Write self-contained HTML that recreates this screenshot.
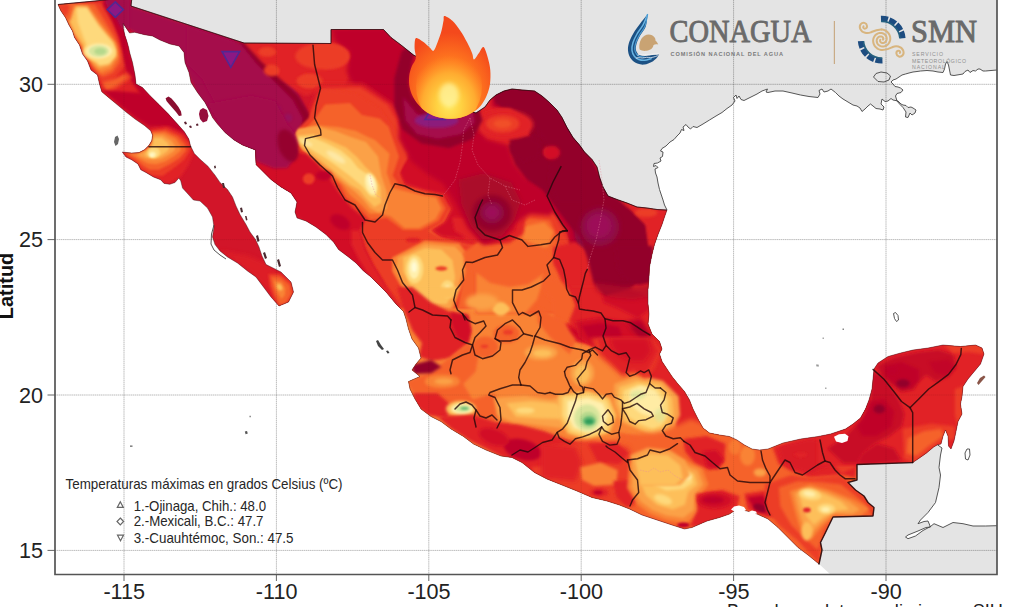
<!DOCTYPE html>
<html lang="es"><head><meta charset="utf-8"><title>Temperaturas máximas</title>
<style>
html,body{margin:0;padding:0;background:#fff;}
body{width:1024px;height:607px;overflow:hidden;position:relative;font-family:"Liberation Sans",sans-serif;}
svg{position:absolute;left:0;top:0;display:block;}
text{font-family:"Liberation Sans",sans-serif;}
.serif{font-family:"Liberation Serif",serif;}
</style></head><body>
<svg width="1024" height="607" viewBox="0 0 1024 607">
<defs>
<clipPath id="plot"><rect x="55" y="0" width="942" height="574.5"/></clipPath>
<clipPath id="mex"><path d="M58.0 4.5 L95.0 1.0 L132.0 -3.0 L131.0 6.0 L244.0 43.0 L331.0 43.5 L331.0 29.5 L383.5 29.5 L391.0 37.5 L401.0 45.0 L408.5 51.0 L413.5 55.0 L423.0 60.0 L432.0 66.0 L438.0 76.0 L443.0 88.0 L447.0 98.0 L455.0 104.0 L465.0 110.0 L476.0 113.0 L485.0 107.0 L490.0 100.0 L496.0 95.0 L504.0 91.0 L512.0 89.0 L522.0 90.0 L534.5 91.0 L542.0 96.0 L549.5 102.5 L557.0 110.0 L562.0 117.5 L567.0 127.5 L573.0 137.5 L579.5 145.0 L584.5 152.0 L592.0 159.5 L597.0 167.0 L599.5 177.0 L603.0 187.0 L608.0 196.0 L617.0 199.5 L627.0 203.0 L637.0 207.0 L647.0 208.0 L657.0 209.5 L667.0 210.0 L664.5 217.0 L662.0 224.5 L658.0 234.5 L654.5 244.5 L652.0 254.5 L649.5 267.0 L649.0 277.0 L648.0 289.5 L648.0 304.0 L649.0 314.0 L648.0 324.0 L652.0 334.0 L659.5 341.5 L662.0 349.0 L659.5 354.0 L662.0 361.5 L667.0 369.0 L672.0 376.5 L678.0 384.0 L684.5 391.5 L689.5 400.0 L693.0 409.0 L698.0 419.0 L703.0 428.0 L709.5 433.0 L719.5 435.0 L729.5 436.5 L737.0 440.0 L744.5 445.0 L752.0 449.0 L759.5 450.0 L768.0 449.0 L783.0 443.0 L800.5 439.0 L818.0 436.5 L830.5 434.0 L845.5 429.0 L853.0 424.0 L860.5 418.0 L865.5 409.0 L869.0 400.0 L872.0 389.0 L873.0 379.0 L874.0 369.0 L878.0 363.0 L888.0 356.5 L900.5 353.0 L913.0 350.0 L928.0 348.0 L943.0 345.0 L960.5 346.5 L975.5 345.0 L982.0 348.0 L984.0 354.0 L980.5 364.0 L973.0 373.0 L968.0 379.0 L963.0 386.5 L962.0 396.5 L960.5 404.0 L962.0 414.0 L958.0 421.5 L956.0 431.5 L954.0 441.0 L951.0 449.0 L948.5 446.0 L948.0 436.0 L945.5 430.0 L943.0 436.0 L941.0 444.0 L937.5 444.8 L933.7 447.0 L926.0 453.4 L918.8 458.4 L912.7 462.6 L857.0 464.5 L857.0 480.0 L848.0 482.5 L855.5 490.0 L864.0 496.0 L868.0 502.5 L874.0 507.5 L873.0 516.0 L833.0 517.0 L825.5 532.5 L820.5 542.5 L822.0 550.0 L819.0 564.0 L808.0 555.0 L798.0 547.5 L788.0 537.5 L778.0 527.5 L768.0 519.0 L757.0 514.0 L747.0 511.0 L737.0 509.0 L729.5 514.0 L719.5 517.5 L707.0 521.0 L692.0 527.5 L684.5 529.0 L672.0 525.0 L657.0 520.0 L642.0 515.0 L629.5 509.0 L619.5 505.0 L607.0 501.0 L592.0 497.5 L577.0 491.0 L562.0 485.0 L547.0 479.0 L534.5 472.5 L522.0 462.5 L512.0 457.5 L501.0 456.0 L486.0 450.0 L473.5 444.0 L463.5 436.5 L451.0 429.0 L441.0 421.5 L431.0 416.5 L421.0 409.0 L415.0 399.0 L410.0 389.0 L408.5 381.5 L420.0 376.5 L412.0 370.0 L416.0 364.0 L421.0 358.0 L418.5 348.0 L412.0 339.0 L408.5 329.0 L406.0 319.0 L403.5 311.5 L396.0 304.0 L386.0 292.0 L378.5 284.5 L371.0 277.0 L363.5 271.0 L356.0 263.0 L348.5 257.0 L338.5 249.5 L333.5 242.0 L326.0 234.5 L316.0 227.0 L306.0 221.0 L297.0 218.0 L295.0 212.0 L297.0 202.0 L291.0 193.0 L281.0 187.0 L271.0 179.5 L261.0 169.5 L256.0 164.5 L255.5 150.0 L242.5 145.0 L234.0 140.0 L225.0 132.5 L217.5 124.0 L212.5 117.5 L209.0 110.0 L205.0 102.5 L197.5 92.5 L191.0 82.5 L189.0 72.5 L185.0 62.5 L184.0 52.5 L179.0 46.0 L170.0 44.0 L160.0 40.0 L152.5 36.0 L144.6 34.7 L134.7 32.3 L129.5 33.0 L126.5 28.5 L123.2 23.5 L123.3 28.5 L124.8 35.0 L126.8 41.0 L128.5 47.0 L129.8 53.0 L132.5 62.5 L135.0 75.0 L136.0 84.0 L142.5 87.5 L149.8 95.4 L159.0 104.5 L168.0 113.6 L177.0 123.5 L184.3 131.7 L188.8 139.0 L190.6 146.2 L194.3 153.5 L200.6 159.8 L207.9 166.2 L215.0 175.2 L220.0 182.5 L227.5 189.5 L232.5 197.0 L236.0 206.0 L240.0 214.5 L246.0 224.5 L250.0 232.0 L255.5 239.5 L259.0 247.0 L262.0 256.0 L266.0 264.5 L281.0 272.0 L291.0 282.0 L293.5 292.0 L288.5 302.0 L279.0 306.0 L271.0 297.0 L263.5 287.0 L256.0 277.0 L247.5 271.0 L237.5 263.0 L227.5 257.0 L220.0 251.0 L215.0 244.5 L212.5 237.0 L214.0 227.0 L212.5 217.0 L207.5 208.0 L200.0 201.0 L193.4 200.0 L188.0 194.0 L182.5 188.0 L180.7 180.7 L178.8 178.0 L175.0 182.5 L169.8 184.3 L164.0 183.4 L160.7 179.8 L153.5 177.0 L146.0 172.5 L140.8 169.8 L138.0 164.0 L131.7 159.8 L126.0 157.0 L122.3 152.0 L131.7 153.0 L139.0 152.6 L144.4 149.8 L149.0 145.3 L151.7 140.8 L152.6 135.3 L150.7 130.8 L144.4 125.4 L135.0 119.0 L126.0 112.0 L117.0 104.5 L108.0 97.0 L101.8 91.8 L99.5 84.0 L97.5 75.0 L91.0 70.0 L87.5 61.0 L82.5 54.0 L79.5 45.0 L74.5 37.5 L72.5 31.0 L69.0 25.0 L65.5 17.5 L61.0 11.0Z"/>
</clipPath>
<filter id="b1_5" x="-50%" y="-50%" width="200%" height="200%"><feGaussianBlur stdDeviation="0.83"/></filter>
<filter id="b2" x="-50%" y="-50%" width="200%" height="200%"><feGaussianBlur stdDeviation="1.10"/></filter>
<filter id="b2_5" x="-50%" y="-50%" width="200%" height="200%"><feGaussianBlur stdDeviation="1.38"/></filter>
<filter id="b3" x="-50%" y="-50%" width="200%" height="200%"><feGaussianBlur stdDeviation="1.65"/></filter>
<filter id="b4" x="-50%" y="-50%" width="200%" height="200%"><feGaussianBlur stdDeviation="2.20"/></filter>
<filter id="b5" x="-50%" y="-50%" width="200%" height="200%"><feGaussianBlur stdDeviation="2.75"/></filter>
<filter id="b6" x="-50%" y="-50%" width="200%" height="200%"><feGaussianBlur stdDeviation="3.30"/></filter>
<radialGradient id="fg1" cx="0.5" cy="0.78" r="0.62"><stop offset="0" stop-color="#ffb02e"/><stop offset="0.55" stop-color="#ff7a1f"/><stop offset="1" stop-color="#f4491c"/></radialGradient>
<radialGradient id="fg2" cx="0.5" cy="0.74" r="0.62"><stop offset="0" stop-color="#ffe95e"/><stop offset="0.3" stop-color="#ffd242"/><stop offset="0.65" stop-color="#ffab30"/><stop offset="1" stop-color="#ff8a26" stop-opacity="0"/></radialGradient>
</defs>
<rect x="0" y="0" width="1024" height="607" fill="#fff"/>
<g clip-path="url(#plot)">
<path d="M132.0 -3.0 L1000.0 -3.0 L997.0 70.0 L991.0 70.5 L985.5 71.0 L983.0 71.0 L980.0 69.0 L978.0 69.0 L975.5 71.0 L973.0 70.5 L970.0 72.5 L968.0 70.0 L965.0 71.5 L963.0 74.0 L960.0 74.5 L957.0 75.0 L954.0 75.5 L950.5 75.0 L949.5 70.0 L948.5 65.0 L947.0 61.5 L945.5 64.0 L944.5 69.0 L943.0 72.5 L938.0 72.0 L933.0 71.0 L927.0 70.5 L920.5 71.0 L917.0 71.5 L913.0 72.0 L909.0 73.0 L905.5 74.0 L902.0 75.0 L899.0 77.0 L896.0 79.0 L893.0 80.0 L891.0 82.0 L893.0 84.0 L895.0 86.5 L898.0 87.0 L900.5 88.0 L903.0 90.0 L901.0 92.5 L897.0 93.5 L895.5 96.0 L897.0 101.0 L900.0 104.5 L903.0 107.5 L906.0 112.0 L905.5 117.0 L908.0 117.5 L910.0 113.0 L912.0 115.0 L915.0 113.0 L916.0 110.0 L913.0 108.0 L911.0 107.0 L908.0 107.5 L906.0 105.5 L903.0 105.0 L901.0 104.0 L898.0 101.0 L893.0 100.0 L891.0 98.5 L888.0 101.0 L885.0 101.5 L882.0 99.0 L881.0 104.0 L884.0 107.0 L883.0 110.0 L880.0 109.0 L876.0 108.5 L873.0 106.0 L870.5 104.0 L868.0 106.0 L865.0 109.0 L862.0 111.5 L860.0 108.0 L857.0 106.0 L853.0 105.0 L848.0 102.0 L843.0 99.0 L839.0 96.0 L835.5 92.5 L831.0 89.0 L828.0 91.0 L824.0 92.0 L822.0 89.0 L819.0 90.5 L820.0 94.0 L818.0 97.5 L809.0 96.5 L800.5 95.0 L792.0 93.0 L783.0 91.0 L775.0 91.0 L768.0 92.5 L766.0 92.0 L767.5 89.0 L762.0 91.0 L757.0 94.0 L752.0 96.5 L747.0 99.0 L744.0 100.5 L741.0 99.5 L739.0 96.0 L737.0 98.5 L736.0 95.0 L733.5 97.5 L735.0 101.0 L732.0 105.0 L727.0 108.5 L722.0 112.5 L716.0 116.0 L709.5 120.0 L703.0 124.0 L697.0 127.5 L693.0 126.5 L690.5 129.0 L688.0 127.0 L686.0 124.5 L683.0 127.0 L684.0 130.5 L681.5 129.5 L680.0 133.0 L677.0 136.0 L674.0 139.5 L670.0 142.0 L666.0 146.0 L662.0 148.5 L660.5 151.0 L663.0 152.0 L662.5 156.5 L660.0 158.0 L661.0 161.0 L657.5 163.0 L654.0 163.5 L653.5 166.5 L656.0 165.5 L658.0 167.5 L655.0 169.0 L655.5 173.0 L657.0 177.0 L658.0 183.0 L659.5 189.5 L661.0 194.0 L663.0 200.0 L664.5 205.0 L667.0 210.0 L667.0 210.0 L657.0 209.5 L647.0 208.0 L637.0 207.0 L627.0 203.0 L617.0 199.5 L608.0 196.0 L603.0 187.0 L599.5 177.0 L597.0 167.0 L592.0 159.5 L584.5 152.0 L579.5 145.0 L573.0 137.5 L567.0 127.5 L562.0 117.5 L557.0 110.0 L549.5 102.5 L542.0 96.0 L534.5 91.0 L522.0 90.0 L512.0 89.0 L504.0 91.0 L496.0 95.0 L490.0 100.0 L485.0 107.0 L476.0 113.0 L465.0 110.0 L455.0 104.0 L447.0 98.0 L443.0 88.0 L438.0 76.0 L432.0 66.0 L423.0 60.0 L413.5 55.0 L408.5 51.0 L401.0 45.0 L391.0 37.5 L383.5 29.5 L331.0 29.5 L331.0 43.5 L244.0 43.0 L131.0 6.0 L132.0 -3.0Z" fill="#e4e4e4"/>
<path d="M937.5 444.8 L942.0 448.0 L940.5 455.0 L939.0 467.5 L940.5 475.0 L939.0 487.5 L935.5 502.5 L928.0 512.5 L920.5 520.0 L918.0 523.7 L924.0 521.5 L928.0 521.0 L930.5 527.0 L926.0 527.5 L918.0 531.0 L908.0 535.0 L905.5 537.0 L908.0 538.7 L915.5 536.0 L923.0 530.5 L930.5 526.5 L934.0 523.7 L943.0 527.5 L953.0 522.5 L963.0 523.7 L973.0 526.0 L985.5 526.0 L997.0 525.7 L1000.0 526.0 L1000.0 580.0 L832.0 580.0 L830.5 574.5 L819.0 564.0 L822.0 550.0 L820.5 542.5 L825.5 532.5 L833.0 517.0 L873.0 516.0 L874.0 507.5 L868.0 502.5 L864.0 496.0 L855.5 490.0 L848.0 482.5 L857.0 480.0 L857.0 464.5 L912.7 462.6 L918.8 458.4 L926.0 453.4 L933.7 447.0Z" fill="#e4e4e4"/>
<line x1="124.0" y1="0" x2="124.0" y2="574.5" stroke="#000" stroke-width="1" stroke-dasharray="1.4 0.5" opacity="0.2"/>
<line x1="276.4" y1="0" x2="276.4" y2="574.5" stroke="#000" stroke-width="1" stroke-dasharray="1.4 0.5" opacity="0.2"/>
<line x1="428.8" y1="0" x2="428.8" y2="574.5" stroke="#000" stroke-width="1" stroke-dasharray="1.4 0.5" opacity="0.2"/>
<line x1="581.2" y1="0" x2="581.2" y2="574.5" stroke="#000" stroke-width="1" stroke-dasharray="1.4 0.5" opacity="0.2"/>
<line x1="733.6" y1="0" x2="733.6" y2="574.5" stroke="#000" stroke-width="1" stroke-dasharray="1.4 0.5" opacity="0.2"/>
<line x1="886.0" y1="0" x2="886.0" y2="574.5" stroke="#000" stroke-width="1" stroke-dasharray="1.4 0.5" opacity="0.2"/>
<line x1="55" y1="84.3" x2="997" y2="84.3" stroke="#000" stroke-width="1" stroke-dasharray="1.4 0.5" opacity="0.2"/>
<line x1="55" y1="239.6" x2="997" y2="239.6" stroke="#000" stroke-width="1" stroke-dasharray="1.4 0.5" opacity="0.2"/>
<line x1="55" y1="395.0" x2="997" y2="395.0" stroke="#000" stroke-width="1" stroke-dasharray="1.4 0.5" opacity="0.2"/>
<line x1="55" y1="550.4" x2="997" y2="550.4" stroke="#000" stroke-width="1" stroke-dasharray="1.4 0.5" opacity="0.2"/>
<g clip-path="url(#mex)">
<rect x="50" y="-5" width="950" height="585" fill="#d21529"/>
<path d="M380.0 215.0 L480.0 205.0 L560.0 215.0 L640.0 260.0 L690.0 300.0 L730.0 440.0 L730.0 520.0 L560.0 500.0 L420.0 440.0 L390.0 330.0Z" fill="#f5622c" filter="url(#b4)"/>
<path d="M395.0 300.0 L430.0 270.0 L500.0 262.0 L560.0 275.0 L620.0 300.0 L690.0 340.0 L720.0 440.0 L720.0 490.0 L560.0 480.0 L430.0 430.0 L400.0 380.0Z" fill="#f98336" filter="url(#b6)"/>
<path d="M104.0 -3.0 L131.0 -3.0 L131.0 6.0 L244.0 43.0 L264.0 43.0 L266.0 58.0 L286.0 74.0 L300.0 98.0 L312.0 122.0 L304.0 146.0 L292.0 162.0 L276.0 172.0 L254.0 166.0 L250.0 152.0 L225.0 135.0 L200.0 102.0 L183.0 62.0 L176.0 48.0 L140.0 36.0 L124.0 26.0 L116.0 20.0 L108.0 8.0Z" fill="#a5074b" filter="url(#b3)"/>
<path d="M54.9 1.6 L106.0 1.6 L119.2 28.0 L122.5 54.4 L127.4 72.5 L142.3 92.3 L148.8 102.1 L99.4 102.1 L82.9 54.4 L59.9 16.5Z" fill="#e12127" filter="url(#b3)"/>
<path d="M104.4 0.0 L119.2 19.8 L122.5 28.0 L127.4 28.0 L129.1 49.4 L133.2 65.9 L137.3 79.1 L148.8 93.9 L142.3 97.2 L129.1 77.4 L122.5 57.7 L119.2 39.5 L112.6 24.7 L99.4 9.9Z" fill="#bf0629" filter="url(#b3)"/>
<path d="M104.4 -1.6 L129.1 -1.6 L129.1 29.7 L120.8 28.0 L115.9 18.1 L107.7 9.9Z" fill="#a5074b" filter="url(#b3)"/>
<path d="M56.6 3.3 L101.1 2.5 L111.0 19.8 L117.5 36.2 L122.5 54.4 L124.1 65.9 L115.9 77.4 L106.0 85.7 L99.4 77.4 L91.2 65.9 L81.3 49.4 L71.4 32.9 L64.8 18.1Z" fill="#ec3c28" filter="url(#b3)"/>
<path d="M59.9 4.9 L94.5 4.1 L104.4 19.8 L114.3 36.2 L119.2 49.4 L120.0 62.6 L112.6 72.5 L102.7 77.4 L94.5 69.2 L82.9 49.4 L73.1 32.9 L66.5 18.1Z" fill="#f5622c" filter="url(#b3)"/>
<path d="M61.5 5.8 L87.9 4.9 L97.8 18.1 L107.7 31.3 L116.7 44.5 L118.4 57.7 L111.0 69.2 L101.1 73.3 L93.7 65.9 L82.9 47.8 L73.9 32.9 L67.3 18.1Z" fill="#f98336" filter="url(#b3)"/>
<path d="M63.2 6.6 L82.9 5.9 L92.8 18.1 L102.7 29.7 L114.3 42.8 L116.7 56.0 L109.3 65.9 L99.4 69.2 L93.2 63.4 L82.9 46.1 L74.7 32.9 L68.1 18.1Z" fill="#fba146" filter="url(#b3)"/>
<path d="M65.7 9.9 L78.0 8.2 L87.1 18.1 L97.8 29.7 L111.0 41.2 L114.3 54.4 L107.7 62.6 L99.4 65.1 L93.2 61.0 L83.8 45.3 L75.5 32.9 L69.4 19.8Z" fill="#fdbf5a" filter="url(#b3)"/>
<path d="M76.4 7.4 L87.1 6.9 L98.6 24.7 L113.4 43.2 L115.6 56.0 L109.3 63.9 L99.4 65.6 L92.0 55.2 L83.8 38.7 L77.7 22.2Z" fill="#fed97c" filter="url(#b3)"/>
<path d="M55.8 3.6 L74.7 3.6 L73.1 11.5 L70.6 19.8 L65.7 22.2 L61.5 14.8Z" fill="#f5622c" filter="url(#b3)"/>
<path d="M56.3 4.0 L69.8 4.0 L68.5 11.5 L65.7 17.3 L61.9 13.2Z" fill="#ec3c28" filter="url(#b3)"/>
<ellipse cx="99.4" cy="51.4" rx="16.5" ry="9.6" fill="#fed97c" filter="url(#b3)"/>
<ellipse cx="99.1" cy="51.1" rx="13.2" ry="7.4" fill="#fff0ae" filter="url(#b3)"/>
<ellipse cx="98.8" cy="51.1" rx="10.2" ry="5.9" fill="#d8e59c" filter="url(#b2)"/>
<ellipse cx="100.2" cy="51.4" rx="5.9" ry="3.3" fill="#b5d88c" filter="url(#b2)"/>
<path d="M99.4 77.4 L115.9 77.4 L127.4 72.5 L132.4 77.4 L120.8 85.7 L109.3 93.9 L104.4 89.0Z" fill="#ec3c28" filter="url(#b3)"/>
<path d="M102.7 82.4 L115.9 79.1 L124.1 75.0 L127.4 77.4 L115.9 85.7 L106.8 90.6Z" fill="#f5622c" filter="url(#b3)"/>
<path d="M100.9 90.0 L149.8 93.6 L169.7 111.7 L184.2 129.9 L191.5 144.4 L180.6 137.1 L166.1 126.2 L149.8 126.2 L135.3 117.2 L117.2 102.7Z" fill="#bf0629" filter="url(#b3)"/>
<path d="M149.8 129.0 L167.9 126.2 L184.2 133.5 L191.5 144.4 L193.3 153.4 L187.9 166.1 L180.6 177.0 L167.9 184.2 L158.9 180.6 L148.0 175.2 L138.9 169.7 L131.7 160.7 L120.8 152.5 L135.3 153.4 L148.0 148.0 L153.4 137.1Z" fill="#e12127" filter="url(#b3)"/>
<path d="M150.7 130.8 L166.1 128.4 L180.6 135.3 L188.8 143.5 L190.0 150.7 L184.2 159.8 L175.2 167.0 L162.5 176.1 L151.6 175.2 L142.6 169.7 L135.3 162.5 L122.6 152.5 L135.3 153.1 L146.2 148.4 L152.5 138.9Z" fill="#ec3c28" filter="url(#b2)"/>
<path d="M151.6 132.0 L165.2 130.8 L177.9 136.8 L185.1 144.4 L186.0 150.7 L179.7 158.0 L169.7 164.3 L158.9 169.7 L149.8 169.7 L143.5 166.1 L136.2 159.8 L125.3 153.1 L136.2 153.4 L147.1 148.9 L153.1 139.3Z" fill="#f5622c" filter="url(#b2)"/>
<path d="M152.5 133.5 L164.3 133.1 L175.2 138.6 L180.6 145.3 L180.6 150.7 L174.3 156.1 L165.2 161.6 L156.1 164.3 L148.0 163.4 L142.6 160.7 L136.2 157.1 L129.0 153.4 L137.1 153.4 L148.0 149.1 L153.4 139.8Z" fill="#f98336" filter="url(#b2)"/>
<path d="M153.1 135.3 L162.5 135.3 L171.5 140.7 L175.2 146.2 L174.3 150.7 L167.9 155.2 L160.7 158.9 L153.4 159.8 L147.1 158.9 L141.6 157.1 L137.1 154.9 L144.4 151.6 L150.7 147.1 L153.8 140.7Z" fill="#fba146" filter="url(#b2)"/>
<path d="M153.4 138.0 L161.6 138.0 L167.9 142.9 L169.7 147.6 L167.0 151.6 L161.6 155.2 L156.1 157.1 L150.7 157.4 L146.2 156.3 L144.4 153.8 L148.9 150.2 L152.5 145.3Z" fill="#fdbf5a" filter="url(#b2)"/>
<ellipse cx="153.8" cy="152.5" rx="6.2" ry="5.4" fill="#fed97c" filter="url(#b2)"/>
<ellipse cx="152.5" cy="154.3" rx="3.6" ry="2.9" fill="#fff0ae" filter="url(#b2)"/>
<ellipse cx="152.0" cy="155.2" rx="1.6" ry="1.3" fill="#fffbd6" filter="url(#b1_5)"/>
<path d="M219.5 250.2 L248.5 255.4 L267.0 263.3 L290.7 281.8 L296.0 297.6 L285.4 308.2 L274.9 308.2 L267.0 289.7 L248.5 271.3Z" fill="#e12127" filter="url(#b4)" opacity="0.7"/>
<path d="M268.3 273.9 L280.2 273.9 L292.0 283.1 L294.7 293.7 L288.1 305.5 L278.8 307.6 L273.6 297.6 L269.6 285.7Z" fill="#ec3c28" filter="url(#b2)"/>
<path d="M270.9 276.5 L280.2 277.1 L289.4 285.0 L291.2 293.7 L285.4 302.9 L279.6 304.2 L275.4 295.0 L272.3 285.7Z" fill="#f5622c" filter="url(#b2)"/>
<path d="M273.6 280.5 L281.5 281.8 L285.4 288.4 L284.9 295.0 L281.5 298.9 L278.1 293.7 L275.4 287.1Z" fill="#f98336" filter="url(#b2)"/>
<ellipse cx="279.6" cy="287.1" rx="2.4" ry="3.7" fill="#fdbf5a" filter="url(#b2)" transform="rotate(-30 279.6 287.1)"/>
<path d="M237.3 41.4 L334.3 41.4 L334.3 27.7 L349.4 27.7 L354.8 63.3 L343.9 87.9 L322.0 90.6 L305.6 96.1 L283.8 83.8 L256.4 74.2 L237.3 71.5Z" fill="#e12127" filter="url(#b3)"/>
<path d="M331.6 27.7 L384.9 27.7 L395.9 40.0 L415.0 53.7 L413.6 71.5 L406.8 93.4 L395.9 109.8 L374.0 98.8 L354.8 87.9 L346.6 71.5 L349.4 52.3 L334.3 41.4Z" fill="#bf0629" filter="url(#b4)"/>
<ellipse cx="267.3" cy="52.3" rx="8.8" ry="4.1" fill="#ec3c28" filter="url(#b3)"/>
<ellipse cx="270.1" cy="71.5" rx="8.2" ry="4.9" fill="#ec3c28" filter="url(#b3)"/>
<ellipse cx="330.2" cy="56.4" rx="19.1" ry="12.3" fill="#ec3c28" filter="url(#b3)"/>
<ellipse cx="309.7" cy="81.1" rx="13.1" ry="6.8" fill="#ec3c28" filter="url(#b3)"/>
<ellipse cx="333.0" cy="56.4" rx="9.6" ry="6.0" fill="#f5622c" filter="url(#b3)" opacity="0.6"/>
<ellipse cx="438.2" cy="119.3" rx="45.1" ry="27.3" fill="#93052c" filter="url(#b5)"/>
<ellipse cx="436.9" cy="120.7" rx="30.1" ry="15.0" fill="#a5074b" filter="url(#b4)"/>
<ellipse cx="435.5" cy="122.1" rx="19.7" ry="8.2" fill="#93186e" filter="url(#b4)"/>
<path d="M480.6 93.4 L497.0 87.9 L521.6 86.5 L521.6 142.6 L502.5 142.6 L486.1 137.1 L477.9 120.7Z" fill="#e12127" filter="url(#b4)"/>
<ellipse cx="503.0" cy="123.4" rx="15.9" ry="8.2" fill="#ec3c28" filter="url(#b3)"/>
<ellipse cx="503.9" cy="124.0" rx="9.6" ry="4.4" fill="#f5622c" filter="url(#b3)" opacity="0.7"/>
<path d="M475.2 139.8 L502.5 143.9 L521.6 142.6 L521.6 191.8 L464.2 191.8 L458.8 167.2Z" fill="#bf0629" filter="url(#b5)"/>
<path d="M319.3 83.8 L363.0 83.8 L393.1 104.3 L409.5 128.9 L425.9 153.5 L447.8 178.1 L458.8 194.5 L294.7 194.5 L294.7 167.2 L289.2 139.8 L308.4 112.5Z" fill="#e12127" filter="url(#b4)"/>
<path d="M322.0 88.4 L360.3 87.3 L387.7 104.8 L401.9 129.5 L415.5 154.1 L431.4 173.2 L445.1 191.8 L322.0 191.8 L303.4 156.8 L296.1 134.9 L311.1 115.8 L317.1 99.4Z" fill="#ec3c28" filter="url(#b3)"/>
<path d="M327.5 107.6 L349.4 104.8 L363.0 115.8 L382.2 118.5 L390.4 134.9 L393.7 154.1 L404.1 167.7 L394.5 183.6 L382.2 191.8 L330.2 191.8 L311.6 162.3 L303.4 140.4 L317.1 124.0Z" fill="#f5622c" filter="url(#b3)"/>
<path d="M322.0 129.5 L343.9 126.7 L360.3 134.9 L368.5 148.6 L371.8 167.7 L382.2 184.1 L371.2 191.8 L333.0 191.8 L319.8 173.2 L306.2 148.6 L299.3 134.9Z" fill="#f98336" filter="url(#b3)"/>
<path d="M298.8 132.2 L317.9 133.3 L334.3 138.8 L350.7 144.2 L360.9 155.7 L366.3 172.7 L371.8 191.8 L352.1 191.8 L333.0 179.5 L316.6 163.1 L303.4 149.4 L295.5 140.4Z" fill="#fba146" filter="url(#b3)"/>
<path d="M296.1 133.8 L313.8 135.7 L330.2 142.0 L343.9 148.6 L353.5 159.0 L358.9 174.0 L364.4 191.8 L356.2 191.8 L335.7 178.1 L319.3 161.7 L305.6 148.0 L296.1 141.2Z" fill="#fdbf5a" filter="url(#b3)"/>
<ellipse cx="360.3" cy="185.0" rx="8.2" ry="8.2" fill="#fed97c" filter="url(#b3)"/>
<ellipse cx="363.0" cy="187.7" rx="4.4" ry="4.9" fill="#fff0ae" filter="url(#b2)"/>
<path d="M237.3 148.0 L267.3 156.2 L289.2 153.5 L298.8 145.3 L305.6 167.2 L322.0 189.1 L322.0 194.5 L237.3 194.5Z" fill="#d21027" filter="url(#b4)"/>
<ellipse cx="278.3" cy="161.7" rx="13.7" ry="5.5" fill="#bf0629" filter="url(#b4)"/>
<ellipse cx="308.4" cy="178.7" rx="6.8" ry="5.5" fill="#ec3c28" filter="url(#b3)"/>
<path d="M234.5 138.6 L314.5 132.7 L320.5 174.2 L344.2 203.9 L267.1 203.9 L249.3 168.3Z" fill="#d21027" filter="url(#b3)"/>
<path d="M234.5 43.7 L242.8 41.4 L261.2 61.5 L279.0 77.8 L298.2 95.6 L310.1 114.9 L313.1 132.7 L304.2 150.5 L290.8 163.8 L270.1 169.8 L253.8 159.4 L246.3 144.5 L240.4 126.8 L237.4 109.0 L234.5 79.3Z" fill="#93052c" filter="url(#b3)"/>
<path d="M187.0 25.9 L241.0 43.7 L257.6 64.5 L275.4 82.3 L293.2 100.1 L302.7 117.9 L300.3 135.7 L289.3 149.0 L273.6 155.8 L258.8 150.5 L244.0 141.6 L229.1 123.8 L214.3 103.0 L201.9 79.3 L187.0 64.5Z" fill="#a5074b" filter="url(#b3)"/>
<ellipse cx="276.0" cy="109.0" rx="4.7" ry="3.0" fill="#7d1e86" filter="url(#b3)" opacity="0.35"/>
<ellipse cx="287.9" cy="117.9" rx="4.2" ry="4.2" fill="#7d1e86" filter="url(#b3)" opacity="0.3"/>
<ellipse cx="274.5" cy="132.7" rx="4.2" ry="3.0" fill="#7d1e86" filter="url(#b3)" opacity="0.3"/>
<ellipse cx="276.0" cy="154.9" rx="17.8" ry="5.9" fill="#bf0629" filter="url(#b3)"/>
<ellipse cx="309.2" cy="177.8" rx="7.1" ry="7.1" fill="#ec3c28" filter="url(#b3)"/>
<ellipse cx="267.1" cy="51.1" rx="7.7" ry="3.6" fill="#ec3c28" filter="url(#b3)"/>
<ellipse cx="271.5" cy="70.4" rx="7.7" ry="5.9" fill="#ec3c28" filter="url(#b3)"/>
<ellipse cx="322.0" cy="56.2" rx="26.7" ry="13.0" fill="#ec3c28" filter="url(#b3)"/>
<ellipse cx="309.2" cy="80.8" rx="10.7" ry="6.5" fill="#ec3c28" filter="url(#b3)"/>
<path d="M397.7 137.3 L403.1 144.1 L419.6 149.6 L438.7 151.5 L457.8 149.6 L477.0 144.1 L482.5 137.3 L531.7 137.3 L531.7 235.7 L501.6 243.9 L490.7 249.4 L463.3 243.9 L441.4 238.5 L430.5 230.2 L444.2 222.0 L451.0 208.4 L444.2 194.7 L425.0 190.6 L404.5 185.1 L399.0 172.8 L410.0 156.4Z" fill="#e12127" filter="url(#b3)"/>
<path d="M403.1 156.4 L425.0 150.9 L446.9 161.9 L452.4 181.0 L468.8 194.7 L474.3 222.0 L463.3 238.5 L441.4 235.7 L433.2 230.2 L445.5 222.0 L452.4 208.4 L444.7 194.1 L425.0 190.0 L405.3 183.8 L399.9 172.8Z" fill="#d21027" filter="url(#b3)"/>
<path d="M504.3 145.5 L531.7 142.7 L531.7 192.0 L518.0 186.5 L507.1 170.1Z" fill="#bf0629" filter="url(#b3)"/>
<ellipse cx="492.0" cy="213.3" rx="20.5" ry="18.6" fill="#93052c" filter="url(#b4)"/>
<ellipse cx="492.0" cy="212.7" rx="12.0" ry="10.9" fill="#900d46" filter="url(#b4)"/>
<ellipse cx="492.0" cy="212.5" rx="7.1" ry="6.6" fill="#9d1158" filter="url(#b4)"/>
<path d="M320.5 89.0 L314.6 103.0 L308.6 118.0 L299.7 127.0 L292.3 138.6 L296.8 153.5 L305.7 168.0 L317.5 180.0 L329.0 190.0 L340.0 196.0 L351.0 208.0 L365.0 219.0 L359.0 230.0 L365.0 249.0 L373.0 266.0 L387.0 288.0 L402.0 308.0 L532.0 308.0 L531.6 235.7 L503.0 244.0 L490.6 249.0 L463.0 244.0 L441.0 238.0 L428.0 231.0 L443.0 222.0 L450.0 208.0 L443.0 194.7 L425.0 191.0 L404.5 186.0 L399.0 173.0 L408.0 158.0 L399.0 140.0 L394.6 129.8 L379.8 109.0 L356.0 94.0Z" fill="#ec3c28" filter="url(#b2)"/>
<path d="M325.0 104.5 L350.0 103.0 L362.0 115.0 L379.8 118.5 L388.7 126.8 L392.0 137.0 L399.0 156.4 L392.7 175.5 L399.0 185.0 L422.3 193.3 L438.7 196.0 L445.5 208.4 L438.7 220.7 L421.0 230.0 L403.0 230.0 L386.7 218.0 L370.3 219.8 L359.4 208.4 L346.0 197.4 L340.0 185.0 L327.0 172.0 L314.0 160.0 L303.0 150.0 L296.0 140.0 L305.7 128.2 L314.6 119.3Z" fill="#f5622c" filter="url(#b2)"/>
<path d="M299.7 130.4 L317.5 125.3 L338.3 127.0 L356.0 131.0 L368.0 137.0 L375.0 140.0 L389.5 153.7 L386.7 172.8 L392.2 187.9 L419.5 194.7 L436.0 197.4 L441.4 208.4 L435.4 219.3 L419.0 228.0 L404.5 228.0 L390.8 216.6 L381.0 213.8 L370.0 213.8 L360.7 204.3 L349.8 194.7 L342.0 184.0 L328.0 171.0 L315.0 159.0 L304.0 150.0 L296.0 141.0 L295.0 135.0Z" fill="#f98336" filter="url(#b2)"/>
<path d="M298.2 128.8 L316.0 126.0 L335.3 131.0 L351.6 137.2 L366.0 142.0 L378.0 156.4 L381.3 175.5 L386.7 192.0 L386.7 208.4 L378.5 212.5 L370.3 208.4 L363.5 200.0 L355.3 192.0 L345.0 184.0 L330.0 171.0 L315.0 159.4 L303.3 150.5 L296.0 141.6 L295.0 134.0Z" fill="#fba146" filter="url(#b2)"/>
<path d="M297.4 135.5 L313.0 134.0 L330.0 140.5 L346.0 147.5 L357.0 157.0 L365.0 166.5 L374.0 175.0 L380.5 186.5 L381.3 203.0 L374.4 207.0 L366.2 198.8 L359.4 190.0 L350.0 184.6 L332.3 169.8 L316.0 157.0 L304.2 148.0 L296.8 141.0Z" fill="#fdbf5a" filter="url(#b2)"/>
<path d="M299.0 137.5 L312.0 137.0 L327.0 143.5 L341.0 150.5 L351.0 159.0 L358.0 168.0 L367.0 174.0 L376.0 185.0 L376.5 198.0 L370.0 196.0 L362.0 186.0 L350.0 176.0 L335.3 165.0 L320.5 155.0 L307.0 147.0 L299.0 141.0Z" fill="#fed97c" filter="url(#b2)"/>
<ellipse cx="307.0" cy="143.0" rx="6.0" ry="2.6" fill="#fee49a" filter="url(#b2)" transform="rotate(25 307.0 143.0)"/>
<ellipse cx="336.0" cy="157.0" rx="11.0" ry="3.6" fill="#fee8a4" filter="url(#b2_5)" transform="rotate(32 336.0 157.0)"/>
<ellipse cx="371.0" cy="184.0" rx="5.5" ry="11.0" fill="#fff0ae" filter="url(#b2)" transform="rotate(-15 371.0 184.0)"/>
<ellipse cx="371.0" cy="182.0" rx="2.5" ry="6.0" fill="#fffbd6" filter="url(#b1_5)" transform="rotate(-15 371.0 182.0)"/>
<path d="M468.8 258.1 L490.7 252.7 L507.1 244.5 L531.7 236.3 L531.7 308.2 L457.8 308.2 L463.9 276.7Z" fill="#f5622c" filter="url(#b2)"/>
<path d="M482.5 268.5 L504.3 260.3 L531.7 257.6 L531.7 308.2 L479.7 308.2Z" fill="#f98336" filter="url(#b3)"/>
<path d="M392.2 257.6 L425.0 240.6 L459.2 243.4 L470.1 257.6 L464.7 276.7 L459.2 293.1 L453.7 308.2 L412.7 308.2 L401.8 287.7 L392.2 271.3Z" fill="#f98336" filter="url(#b2)"/>
<path d="M397.7 257.6 L425.0 243.9 L455.1 246.7 L466.0 258.1 L461.1 276.7 L455.7 293.1 L451.0 308.2 L415.5 308.2 L404.5 287.7 L396.3 269.9Z" fill="#fba146" filter="url(#b2)"/>
<path d="M403.1 257.6 L425.0 248.0 L441.4 249.4 L452.4 260.3 L455.1 276.7 L452.4 293.1 L446.9 304.1 L425.0 304.1 L411.4 287.7 L403.1 271.3Z" fill="#fdbf5a" filter="url(#b2)"/>
<ellipse cx="414.6" cy="269.1" rx="8.8" ry="14.2" fill="#fed97c" filter="url(#b2)"/>
<ellipse cx="414.1" cy="268.5" rx="5.5" ry="10.4" fill="#fff0ae" filter="url(#b2)"/>
<ellipse cx="414.1" cy="267.2" rx="2.5" ry="4.9" fill="#fffbd6" filter="url(#b1_5)"/>
<ellipse cx="447.4" cy="289.0" rx="6.6" ry="8.8" fill="#fed97c" filter="url(#b2)"/>
<ellipse cx="447.4" cy="289.9" rx="3.3" ry="4.9" fill="#fff0ae" filter="url(#b2)"/>
<ellipse cx="441.4" cy="268.5" rx="6.0" ry="2.2" fill="#ec3c28" filter="url(#b1_5)"/>
<ellipse cx="413.0" cy="240.1" rx="7.1" ry="2.7" fill="#e12127" filter="url(#b1_5)"/>
<path d="M247.3 152.3 L263.7 148.2 L280.1 153.1 L293.8 150.9 L306.1 153.7 L317.0 163.2 L330.7 179.7 L341.6 196.1 L352.6 209.7 L364.9 219.3 L359.4 230.2 L364.9 249.4 L373.1 265.8 L386.7 287.7 L401.8 308.2 L378.5 308.2 L332.0 243.9 L291.0 211.1 L247.3 164.6Z" fill="#d21027" filter="url(#b3)"/>
<path d="M359.4 230.2 L364.9 249.4 L373.1 265.8 L386.7 287.7 L401.8 308.2 L392.2 308.2 L373.1 282.2 L359.4 260.3 L351.2 243.9 L351.2 230.2Z" fill="#e12127" filter="url(#b3)"/>
<ellipse cx="284.2" cy="151.5" rx="11.5" ry="7.1" fill="#93052c" filter="url(#b3)"/>
<ellipse cx="323.8" cy="175.6" rx="8.2" ry="4.9" fill="#bf0629" filter="url(#b3)"/>
<ellipse cx="308.8" cy="178.8" rx="6.0" ry="5.5" fill="#ec3c28" filter="url(#b2)"/>
<ellipse cx="340.2" cy="222.0" rx="10.9" ry="6.8" fill="#bf0629" filter="url(#b3)" transform="rotate(30 340.2 222.0)"/>
<path d="M491.4 87.6 L536.8 87.6 L559.6 110.3 L578.5 136.8 L597.5 167.1 L610.7 195.6 L633.5 203.1 L650.5 216.4 L654.3 239.1 L650.5 273.2 L635.4 292.2 L605.0 299.8 L582.3 284.6 L570.9 258.1 L565.3 231.6 L548.2 208.8 L529.3 193.7 L514.1 174.7 L506.5 155.8 L517.9 136.8 L506.5 117.9 L491.4 106.5Z" fill="#bf0629" filter="url(#b4)"/>
<path d="M498.9 90.6 L533.0 90.6 L555.8 110.3 L574.7 136.8 L593.7 167.1 L608.8 197.5 L631.6 205.8 L646.7 217.2 L650.5 239.1 L646.7 269.5 L631.6 284.6 L605.0 292.2 L589.9 277.0 L579.3 254.3 L574.7 231.6 L556.5 205.8 L540.6 189.9 L526.2 174.7 L518.6 155.8 L530.0 136.8 L518.6 117.9 L499.7 106.5Z" fill="#93052c" filter="url(#b3)"/>
<path d="M487.6 108.4 L517.9 106.5 L531.2 121.7 L527.4 140.6 L510.3 150.1 L491.4 152.0 L480.0 144.4Z" fill="#e12127" filter="url(#b3)"/>
<ellipse cx="504.6" cy="124.0" rx="15.9" ry="8.7" fill="#ec3c28" filter="url(#b2_5)"/>
<ellipse cx="504.6" cy="124.0" rx="9.1" ry="4.5" fill="#f5622c" filter="url(#b2_5)"/>
<path d="M476.2 144.4 L510.3 150.1 L517.9 167.1 L525.5 182.3 L517.9 193.7 L495.2 193.7 L476.2 189.9Z" fill="#e12127" filter="url(#b4)"/>
<ellipse cx="598.2" cy="232.3" rx="23.5" ry="22.7" fill="#900d46" filter="url(#b5)"/>
<ellipse cx="597.5" cy="230.8" rx="15.9" ry="15.2" fill="#9d1158" filter="url(#b5)"/>
<path d="M605.0 189.9 L639.1 202.0 L667.6 210.7 L663.8 231.6 L656.2 246.7 L649.8 261.9 L647.5 292.2 L646.7 313.0 L605.0 313.0 L605.0 297.9 L629.7 290.3 L641.0 273.2 L643.7 246.7 L641.0 227.8 L629.7 210.7 L616.4 200.5Z" fill="#e12127" filter="url(#b3)"/>
<ellipse cx="646.7" cy="215.7" rx="9.9" ry="5.3" fill="#ec3c28" filter="url(#b2_5)"/>
<path d="M593.7 292.2 L631.6 286.5 L646.7 292.2 L646.7 313.0 L589.9 313.0Z" fill="#d21027" filter="url(#b3)"/>
<path d="M544.4 208.8 L565.3 231.6 L570.9 258.1 L582.3 284.6 L593.7 313.0 L555.8 313.0 L552.0 269.5 L540.6 239.1Z" fill="#e12127" filter="url(#b3)"/>
<path d="M495.2 224.0 L525.5 208.8 L552.0 210.7 L567.1 239.1 L572.8 277.0 L574.7 313.0 L476.2 313.0 L476.2 239.1Z" fill="#ec3c28" filter="url(#b3)"/>
<path d="M476.2 246.7 L502.7 231.6 L529.3 218.3 L550.1 220.2 L557.7 239.1 L555.8 258.1 L561.5 284.6 L559.6 313.0 L476.2 313.0Z" fill="#f5622c" filter="url(#b3)"/>
<path d="M525.5 225.9 L544.4 222.1 L553.9 231.6 L548.2 246.7 L533.0 250.5 L521.7 239.1Z" fill="#f98336" filter="url(#b2_5)"/>
<path d="M476.2 258.1 L502.7 250.5 L533.0 258.1 L544.4 277.0 L536.8 299.8 L525.5 313.0 L476.2 313.0Z" fill="#f98336" filter="url(#b3)"/>
<path d="M476.2 189.9 L517.9 193.7 L536.8 201.3 L525.5 210.7 L495.2 225.9 L476.2 239.1Z" fill="#d21027" filter="url(#b4)"/>
<path d="M462.9 252.8 L482.0 239.1 L514.9 236.4 L542.2 247.3 L553.1 261.0 L542.2 274.7 L528.5 284.3 L509.4 287.0 L490.2 282.9 L479.3 274.7 L465.6 269.2Z" fill="#f5622c" filter="url(#b3)"/>
<path d="M542.2 274.7 L564.1 282.9 L577.8 302.0 L575.0 323.9 L564.1 334.9 L553.1 323.9 L553.1 302.0 L542.2 288.4Z" fill="#f5622c" filter="url(#b3)"/>
<path d="M452.0 217.3 L525.8 217.3 L523.1 233.7 L509.4 243.2 L490.2 244.6 L471.1 240.5 L454.7 230.9Z" fill="#e12127" filter="url(#b3)"/>
<path d="M473.8 217.3 L517.6 217.3 L514.9 230.9 L498.5 236.4 L482.0 233.7Z" fill="#d21027" filter="url(#b3)"/>
<path d="M553.1 247.3 L575.0 241.9 L591.4 252.8 L596.9 274.7 L602.4 296.6 L607.8 313.0 L591.4 313.0 L577.8 302.0 L564.1 282.9 L553.1 263.8Z" fill="#e12127" filter="url(#b3)"/>
<path d="M629.7 282.9 L665.3 280.2 L665.3 388.2 L646.1 388.2 L635.2 356.7 L629.7 329.4Z" fill="#e12127" filter="url(#b3)"/>
<path d="M564.1 323.9 L591.4 318.5 L624.3 321.2 L635.2 334.9 L618.8 344.4 L591.4 345.8 L569.6 340.3Z" fill="#e12127" filter="url(#b3)"/>
<ellipse cx="592.8" cy="332.1" rx="26.0" ry="9.8" fill="#d21027" filter="url(#b3)"/>
<ellipse cx="588.7" cy="330.8" rx="15.0" ry="4.9" fill="#bf0629" filter="url(#b3)"/>
<ellipse cx="501.2" cy="308.9" rx="8.8" ry="3.8" fill="#fdbf5a" filter="url(#b3)"/>
<ellipse cx="482.0" cy="302.0" rx="16.4" ry="8.2" fill="#fba146" filter="url(#b4)"/>
<path d="M569.0 286.9 L650.4 286.9 L659.8 308.8 L666.1 337.0 L672.3 362.0 L681.7 383.9 L700.5 408.9 L722.4 434.0 L722.4 482.5 L700.5 465.3 L681.7 440.2 L669.2 408.9 L656.7 383.9 L637.9 368.3 L619.1 362.0 L600.3 352.6 L581.5 337.0 L569.0 321.3 L575.3 305.7Z" fill="#e12127" filter="url(#b3)"/>
<path d="M575.3 321.3 L600.3 317.5 L625.4 321.3 L638.5 337.0 L632.3 352.6 L612.9 356.4 L594.1 347.0 L578.4 337.0Z" fill="#d21027" filter="url(#b3)"/>
<path d="M581.5 326.0 L600.3 322.9 L619.1 326.9 L622.2 337.0 L606.6 341.6 L587.8 337.0Z" fill="#bf0629" filter="url(#b3)"/>
<path d="M600.3 286.9 L647.3 286.9 L650.4 308.8 L637.9 318.2 L619.1 308.8 L603.5 302.5Z" fill="#d21027" filter="url(#b3)"/>
<path d="M625.4 321.3 L641.0 318.2 L650.4 333.8 L653.5 352.6 L650.4 368.3 L637.9 365.1 L633.2 352.6 L637.9 337.0Z" fill="#bf0629" filter="url(#b4)"/>
<path d="M630.1 327.6 L641.0 324.4 L647.9 337.0 L649.8 352.6 L645.7 363.6 L639.5 360.4 L636.3 351.0 L639.5 337.0Z" fill="#93052c" filter="url(#b4)" opacity="0.55"/>
<path d="M537.7 307.2 L562.8 321.3 L575.9 340.1 L569.7 354.2 L550.2 337.6 L537.7 321.9Z" fill="#f5622c" filter="url(#b3)"/>
<ellipse cx="540.9" cy="352.6" rx="16.3" ry="7.5" fill="#fba146" filter="url(#b3)"/>
<ellipse cx="542.4" cy="353.2" rx="9.4" ry="3.8" fill="#fdbf5a" filter="url(#b3)"/>
<ellipse cx="582.2" cy="372.9" rx="11.9" ry="13.1" fill="#fba146" filter="url(#b3)"/>
<ellipse cx="582.2" cy="373.9" rx="7.5" ry="8.8" fill="#fdbf5a" filter="url(#b3)"/>
<ellipse cx="506.4" cy="333.8" rx="13.1" ry="9.4" fill="#f5622c" filter="url(#b2_5)"/>
<ellipse cx="508.0" cy="332.3" rx="5.0" ry="2.5" fill="#ec3c28" filter="url(#b2)"/>
<ellipse cx="485.1" cy="347.0" rx="13.1" ry="10.6" fill="#f5622c" filter="url(#b2_5)"/>
<ellipse cx="484.5" cy="346.3" rx="3.8" ry="1.9" fill="#ec3c28" filter="url(#b2)"/>
<path d="M406.3 286.9 L459.5 286.9 L453.2 297.8 L431.3 301.0 L412.5 296.3Z" fill="#fdbf5a" filter="url(#b3)"/>
<ellipse cx="500.8" cy="308.8" rx="6.9" ry="6.9" fill="#fdbf5a" filter="url(#b3)"/>
<path d="M396.9 286.9 L412.5 286.9 L431.3 302.5 L450.1 311.9 L467.9 315.0 L471.1 330.7 L467.9 343.8 L450.1 357.9 L431.3 361.1 L418.8 356.4 L421.9 343.2 L412.5 330.7 L403.1 308.8Z" fill="#e12127" filter="url(#b3)"/>
<path d="M450.1 311.9 L467.9 315.0 L471.1 330.7 L467.9 343.8 L457.0 337.6 L451.6 324.4Z" fill="#d21027" filter="url(#b3)"/>
<path d="M406.3 381.4 L431.3 372.0 L450.1 357.3 L467.9 343.2 L478.9 352.6 L475.7 371.4 L463.2 383.9 L472.6 399.6 L493.9 393.3 L503.9 408.9 L493.9 422.1 L462.6 422.1 L443.8 415.8 L418.8 403.3Z" fill="#f5622c" filter="url(#b3)"/>
<path d="M411.0 365.1 L431.3 360.1 L441.3 366.7 L431.3 373.3 L414.1 373.9Z" fill="#93052c" filter="url(#b2_5)"/>
<ellipse cx="442.3" cy="381.4" rx="17.5" ry="6.9" fill="#f98336" filter="url(#b3)"/>
<ellipse cx="443.8" cy="381.4" rx="9.4" ry="3.1" fill="#fba146" filter="url(#b3)"/>
<path d="M412.5 393.3 L437.6 393.3 L451.6 405.8 L447.0 418.3 L428.2 415.2 L415.7 405.8Z" fill="#e12127" filter="url(#b3)"/>
<ellipse cx="461.0" cy="408.9" rx="15.0" ry="8.1" fill="#fdbf5a" filter="url(#b3)"/>
<ellipse cx="462.0" cy="408.9" rx="11.3" ry="5.6" fill="#fff0ae" filter="url(#b2_5)"/>
<ellipse cx="462.6" cy="408.6" rx="8.1" ry="3.4" fill="#d8e59c" filter="url(#b2)"/>
<ellipse cx="464.5" cy="408.3" rx="4.1" ry="1.6" fill="#6cbc74" filter="url(#b2)"/>
<path d="M437.6 416.8 L472.0 414.6 L493.9 421.5 L518.9 424.6 L544.0 430.9 L569.0 440.2 L587.8 443.4 L600.3 452.8 L619.1 459.0 L625.4 482.5 L537.7 482.5 L518.9 465.3 L493.9 452.8 L468.9 440.2 L450.1 427.7Z" fill="#e12127" filter="url(#b3)"/>
<ellipse cx="522.7" cy="449.6" rx="19.4" ry="10.0" fill="#bf0629" filter="url(#b3)" transform="rotate(15 522.7 449.6)"/>
<ellipse cx="493.9" cy="437.1" rx="15.7" ry="7.8" fill="#d21027" filter="url(#b3)" transform="rotate(20 493.9 437.1)"/>
<path d="M531.5 466.9 L575.3 463.7 L587.8 482.5 L537.7 482.5Z" fill="#ec3c28" filter="url(#b3)"/>
<path d="M581.5 446.5 L600.3 452.8 L619.1 459.0 L637.9 465.3 L722.4 465.3 L722.4 482.5 L587.8 482.5Z" fill="#f5622c" filter="url(#b3)"/>
<path d="M493.9 398.0 L525.2 395.8 L550.2 399.6 L569.0 395.8 L575.9 415.2 L563.4 428.4 L537.7 425.2 L512.7 422.1 L497.0 415.8Z" fill="#fba146" filter="url(#b3)"/>
<path d="M506.4 403.3 L531.5 401.1 L556.5 403.3 L565.9 410.5 L559.6 419.0 L537.7 418.3 L515.8 416.8Z" fill="#fdbf5a" filter="url(#b3)"/>
<ellipse cx="525.2" cy="410.5" rx="9.4" ry="3.1" fill="#fed97c" filter="url(#b3)"/>
<path d="M558.1 394.9 L587.8 390.8 L609.7 398.0 L616.6 415.2 L609.7 432.4 L587.8 439.6 L567.5 433.4 L558.1 415.2Z" fill="#fdbf5a" filter="url(#b3)"/>
<path d="M562.8 397.1 L587.8 393.9 L606.6 400.2 L612.9 415.2 L606.6 430.9 L587.8 436.5 L570.6 430.9 L562.1 415.2Z" fill="#fed97c" filter="url(#b2_5)"/>
<path d="M567.5 401.1 L587.8 398.0 L602.8 403.3 L607.8 415.2 L602.8 427.7 L587.8 432.4 L573.7 427.7 L567.5 415.2Z" fill="#fff0ae" filter="url(#b2_5)"/>
<ellipse cx="587.2" cy="417.7" rx="13.1" ry="13.1" fill="#d8e59c" filter="url(#b2_5)"/>
<ellipse cx="588.4" cy="419.9" rx="8.8" ry="8.1" fill="#b5d88c" filter="url(#b2)"/>
<ellipse cx="589.1" cy="420.8" rx="6.3" ry="4.7" fill="#6cbc74" filter="url(#b2)"/>
<ellipse cx="589.1" cy="421.5" rx="4.1" ry="2.5" fill="#2f9d5a" filter="url(#b1_5)"/>
<path d="M614.4 383.9 L637.9 375.1 L662.9 380.8 L678.6 396.4 L680.1 415.2 L671.7 431.5 L655.1 437.1 L637.9 429.3 L620.7 422.1 L613.5 402.7Z" fill="#fba146" filter="url(#b3)"/>
<path d="M619.1 387.0 L637.9 380.8 L659.8 383.9 L672.3 398.0 L673.9 415.2 L666.1 429.3 L653.5 434.0 L637.9 427.7 L623.8 419.9 L617.5 402.7Z" fill="#fdbf5a" filter="url(#b3)"/>
<path d="M623.8 390.2 L637.9 384.5 L657.3 387.7 L667.6 399.6 L668.6 414.6 L662.3 425.2 L652.9 429.3 L639.5 424.0 L627.9 416.8 L622.2 402.7Z" fill="#fed97c" filter="url(#b3)"/>
<path d="M630.1 390.2 L641.0 385.5 L655.1 390.2 L662.9 401.1 L661.4 412.1 L652.0 416.8 L641.0 413.6 L633.2 407.4 L629.1 399.6Z" fill="#fff0ae" filter="url(#b3)" opacity="0.8"/>
<ellipse cx="637.9" cy="394.9" rx="7.8" ry="4.4" fill="#d8e59c" filter="url(#b3)" opacity="0.7"/>
<ellipse cx="659.8" cy="415.2" rx="5.6" ry="6.9" fill="#d8e59c" filter="url(#b3)" opacity="0.6"/>
<path d="M619.1 432.4 L656.7 439.6 L681.7 440.2 L700.5 465.3 L722.4 482.5 L619.1 482.5Z" fill="#f5622c" filter="url(#b3)"/>
<path d="M681.7 446.5 L706.8 452.8 L722.4 465.3 L722.4 482.5 L700.5 477.8 L684.8 465.3Z" fill="#e12127" filter="url(#b3)"/>
<path d="M572.5 446.9 L622.5 437.5 L663.1 431.2 L691.2 418.8 L722.5 431.2 L778.8 440.6 L841.2 437.5 L881.9 431.2 L881.9 575.0 L578.8 575.0 L569.4 493.8Z" fill="#f5622c" filter="url(#b5)"/>
<path d="M550.6 446.9 L591.2 440.6 L628.8 446.9 L638.1 478.1 L635.0 506.2 L591.2 506.2 L550.6 484.4Z" fill="#ec3c28" filter="url(#b5)"/>
<path d="M541.2 443.8 L575.6 446.9 L581.9 462.5 L575.6 481.2 L541.2 478.1Z" fill="#e12127" filter="url(#b4)"/>
<path d="M588.1 443.8 L616.2 442.2 L628.8 453.1 L619.4 464.1 L597.5 462.5Z" fill="#e12127" filter="url(#b3)"/>
<path d="M580.3 467.2 L600.6 462.5 L617.8 470.3 L616.2 484.4 L594.4 485.9 L581.9 479.7Z" fill="#f98336" filter="url(#b3)"/>
<ellipse cx="599.1" cy="492.5" rx="9.4" ry="4.4" fill="#e12127" filter="url(#b2_5)"/>
<ellipse cx="598.1" cy="492.5" rx="4.4" ry="1.9" fill="#bf0629" filter="url(#b2)"/>
<path d="M613.1 481.2 L633.4 479.7 L636.6 500.0 L627.2 507.8 L616.2 496.9Z" fill="#e12127" filter="url(#b3)"/>
<path d="M629.4 462.5 L653.8 455.0 L679.4 458.1 L702.2 468.1 L708.4 484.4 L699.1 497.5 L699.1 513.1 L685.6 523.4 L666.2 520.3 L650.0 514.1 L637.5 504.7 L627.2 488.1Z" fill="#f98336" filter="url(#b3)"/>
<path d="M633.4 464.1 L653.8 458.8 L678.1 461.9 L698.1 470.3 L703.1 484.4 L694.4 495.3 L693.8 510.0 L683.4 518.1 L666.2 515.6 L652.2 510.0 L640.6 501.6 L631.9 487.5Z" fill="#fba146" filter="url(#b3)"/>
<path d="M641.2 467.2 L660.0 462.5 L678.8 465.6 L694.4 473.4 L697.5 484.4 L688.1 492.2 L685.0 504.7 L672.5 509.4 L656.9 504.7 L645.9 495.3 L639.7 481.2Z" fill="#fdbf5a" filter="url(#b3)"/>
<path d="M653.8 469.4 L672.5 467.2 L689.7 473.4 L692.8 482.8 L683.4 489.1 L666.2 490.6 L653.8 484.4Z" fill="#fed97c" filter="url(#b3)"/>
<ellipse cx="684.4" cy="475.9" rx="7.5" ry="3.8" fill="#fff0ae" filter="url(#b2_5)" transform="rotate(10 684.4 475.9)"/>
<ellipse cx="663.1" cy="499.4" rx="9.4" ry="4.4" fill="#fed97c" filter="url(#b3)" transform="rotate(20 663.1 499.4)"/>
<path d="M695.9 493.8 L722.5 490.0 L739.7 496.2 L736.6 510.0 L722.5 519.4 L706.9 526.6 L689.7 526.6 L697.5 510.0Z" fill="#e12127" filter="url(#b3)"/>
<ellipse cx="714.7" cy="500.6" rx="17.2" ry="8.1" fill="#d21027" filter="url(#b3)"/>
<ellipse cx="713.1" cy="500.0" rx="10.9" ry="3.8" fill="#bf0629" filter="url(#b2_5)"/>
<ellipse cx="683.4" cy="525.0" rx="6.2" ry="2.5" fill="#bf0629" filter="url(#b2)"/>
<path d="M683.4 439.1 L706.9 435.9 L725.6 443.8 L724.1 462.5 L710.0 470.3 L694.4 462.5 L685.0 451.6Z" fill="#e12127" filter="url(#b3)"/>
<path d="M702.2 451.6 L716.2 450.0 L724.1 459.4 L717.8 469.4 L706.9 467.2Z" fill="#d21027" filter="url(#b3)"/>
<ellipse cx="747.5" cy="455.6" rx="7.5" ry="10.0" fill="#f98336" filter="url(#b3)"/>
<ellipse cx="760.0" cy="472.5" rx="6.2" ry="4.1" fill="#fba146" filter="url(#b3)"/>
<ellipse cx="735.0" cy="446.9" rx="6.2" ry="7.8" fill="#f98336" filter="url(#b3)" opacity="0.7"/>
<path d="M744.4 493.8 L766.2 490.6 L778.8 503.1 L785.0 515.6 L766.2 517.2 L747.5 509.4Z" fill="#e12127" filter="url(#b3)"/>
<path d="M747.5 497.5 L763.1 495.3 L772.5 506.2 L769.4 514.1 L755.3 510.9Z" fill="#bf0629" filter="url(#b2_5)"/>
<ellipse cx="760.0" cy="507.8" rx="6.9" ry="3.8" fill="#93052c" filter="url(#b2)" transform="rotate(20 760.0 507.8)"/>
<path d="M772.5 446.9 L810.0 435.9 L838.1 442.2 L850.6 456.2 L841.2 475.0 L810.0 477.5 L791.2 471.2 L778.8 464.1Z" fill="#e12127" filter="url(#b3)"/>
<path d="M778.8 446.9 L810.0 439.1 L828.8 443.8 L835.0 462.5 L810.0 473.4 L792.8 467.2 L782.5 460.9Z" fill="#da1a28" filter="url(#b3)"/>
<ellipse cx="800.6" cy="454.7" rx="6.9" ry="2.5" fill="#e12127" filter="url(#b2)"/>
<path d="M831.9 396.9 L881.9 396.9 L881.9 465.6 L856.9 465.6 L855.3 478.1 L838.1 473.4 L835.0 446.9 L841.2 431.2Z" fill="#e12127" filter="url(#b3)"/>
<path d="M860.0 406.2 L881.9 403.1 L881.9 446.9 L867.8 453.1 L860.0 437.5Z" fill="#d21027" filter="url(#b3)"/>
<path d="M835.0 446.9 L852.2 446.9 L855.3 467.2 L841.2 473.4 L833.4 462.5Z" fill="#ec3c28" filter="url(#b3)"/>
<path d="M764.7 484.4 L791.2 475.0 L810.0 478.1 L841.2 475.0 L872.5 503.1 L875.6 518.8 L831.9 520.3 L820.9 546.9 L819.4 564.1 L797.5 540.6 L778.8 525.0 L766.2 509.4Z" fill="#ec3c28" filter="url(#b3)"/>
<path d="M778.8 487.5 L797.5 481.2 L819.4 481.9 L841.2 484.4 L864.7 503.1 L872.5 516.2 L832.5 517.5 L824.1 531.2 L817.8 550.0 L803.8 537.5 L791.2 525.0 L780.3 506.2Z" fill="#f5622c" filter="url(#b3)"/>
<path d="M789.7 491.2 L810.0 484.4 L829.4 490.0 L854.4 500.0 L869.4 508.8 L860.6 516.2 L835.0 515.6 L823.1 525.6 L811.6 539.1 L799.1 525.6 L793.8 506.9Z" fill="#f98336" filter="url(#b3)"/>
<path d="M794.4 493.1 L810.0 487.5 L827.2 492.2 L849.1 501.6 L860.0 509.4 L852.2 514.1 L833.4 513.1 L821.9 522.5 L811.6 532.8 L802.2 522.5 L797.5 506.9Z" fill="#fba146" filter="url(#b3)"/>
<path d="M799.1 494.4 L810.0 490.0 L824.1 493.8 L841.2 501.6 L849.1 509.4 L835.0 510.9 L823.1 517.2 L813.8 525.0 L806.9 517.2 L802.2 506.2Z" fill="#fdbf5a" filter="url(#b3)"/>
<ellipse cx="810.0" cy="494.4" rx="11.2" ry="5.6" fill="#fed97c" filter="url(#b2_5)" transform="rotate(10 810.0 494.4)"/>
<ellipse cx="809.4" cy="493.8" rx="6.2" ry="2.8" fill="#fff0ae" filter="url(#b2_5)" transform="rotate(10 809.4 493.8)"/>
<ellipse cx="826.2" cy="508.8" rx="8.8" ry="5.0" fill="#fed97c" filter="url(#b2_5)"/>
<ellipse cx="825.6" cy="509.4" rx="4.4" ry="2.5" fill="#fff0ae" filter="url(#b2_5)"/>
<ellipse cx="806.9" cy="531.2" rx="5.6" ry="9.4" fill="#fdbf5a" filter="url(#b3)"/>
<ellipse cx="806.9" cy="510.0" rx="3.8" ry="2.5" fill="#e12127" filter="url(#b2)"/>
<path d="M817.5 428.7 L844.7 423.8 L869.4 401.5 L869.4 369.4 L884.3 357.1 L918.8 347.2 L958.4 342.2 L988.0 342.2 L990.5 369.4 L968.3 394.1 L968.3 428.7 L953.4 453.4 L913.9 465.8 L817.5 465.8Z" fill="#e12127" filter="url(#b3)"/>
<path d="M872.4 371.9 L884.7 376.8 L892.2 389.2 L899.6 401.5 L904.5 413.9 L902.0 426.3 L889.7 436.1 L874.9 443.6 L862.5 453.4 L857.1 463.3 L843.5 463.3 L827.4 448.5 L845.9 436.1 L861.5 419.3 L870.2 404.0 L871.9 386.7Z" fill="#c80c28" filter="url(#b3)"/>
<path d="M869.4 401.5 L884.3 399.1 L894.1 411.4 L891.7 426.3 L876.8 436.1 L862.0 436.1 L857.1 426.3 L865.7 413.9Z" fill="#bf0629" filter="url(#b3)" opacity="0.85"/>
<ellipse cx="879.3" cy="409.0" rx="5.9" ry="4.4" fill="#93052c" filter="url(#b2_5)"/>
<path d="M876.3 365.7 L894.1 357.1 L918.8 352.1 L938.6 349.7 L953.4 354.6 L956.4 367.0 L949.0 376.8 L936.1 381.8 L926.3 374.9 L918.8 381.8 L913.9 389.7 L901.5 392.2 L891.7 384.7 L881.8 377.3Z" fill="#c80c28" filter="url(#b3)"/>
<path d="M884.3 365.7 L901.5 362.0 L918.8 369.4 L918.8 380.5 L911.4 388.0 L901.5 389.7 L892.9 383.0 L884.7 375.6Z" fill="#bf0629" filter="url(#b3)" opacity="0.9"/>
<ellipse cx="903.0" cy="383.3" rx="6.9" ry="4.0" fill="#93052c" filter="url(#b2_5)"/>
<ellipse cx="892.2" cy="370.9" rx="5.9" ry="3.5" fill="#bf0629" filter="url(#b2_5)"/>
<path d="M928.7 362.0 L948.5 359.5 L954.7 368.2 L946.0 375.6 L934.9 373.1Z" fill="#bf0629" filter="url(#b3)" opacity="0.6"/>
<path d="M943.6 344.2 L973.2 342.7 L984.3 345.9 L985.1 354.6 L968.3 352.1 L953.4 353.4Z" fill="#ec3c28" filter="url(#b3)"/>
<path d="M954.7 389.2 L968.3 384.3 L968.3 428.7 L958.4 428.7 L954.7 413.9Z" fill="#ec3c28" filter="url(#b3)"/>
<path d="M902.8 428.7 L931.2 423.8 L954.7 426.3 L954.7 438.6 L938.6 443.6 L926.3 453.4 L913.9 463.3 L904.0 458.4Z" fill="#ec3c28" filter="url(#b3)"/>
<path d="M907.7 438.6 L923.8 431.2 L941.1 428.7 L943.6 436.1 L928.7 446.0 L916.4 455.9 L906.5 453.4Z" fill="#f5622c" filter="url(#b3)"/>
<path d="M862.0 453.4 L876.8 443.6 L894.1 448.5 L901.5 460.9 L869.4 464.6 L857.1 463.3Z" fill="#c80c28" filter="url(#b3)"/>
<path d="M630.2 455.2 L647.7 447.7 L670.2 450.2 L685.3 460.2 L690.3 475.2 L680.2 485.3 L635.2 485.3Z" fill="#fba146" filter="url(#b3)"/>
<path d="M635.2 460.2 L650.2 454.0 L667.7 455.2 L680.2 465.2 L682.8 477.7 L675.2 485.3 L640.2 485.3Z" fill="#fdbf5a" filter="url(#b3)"/>
<path d="M398.8 120.0 L473.9 120.0 L486.4 138.8 L508.3 145.0 L514.6 163.8 L527.1 179.5 L542.8 188.9 L555.3 207.6 L550.6 215.5 L530.2 213.9 L514.6 223.3 L505.2 238.9 L483.3 245.2 L467.6 228.0 L455.1 202.0 L442.6 183.2 L427.0 173.8 L411.3 161.3 L398.8 138.8Z" fill="#bf0629" filter="url(#b4)"/>
<path d="M458.3 179.5 L483.3 173.2 L511.5 182.6 L520.9 201.4 L514.6 220.2 L502.1 235.8 L483.3 240.5 L470.8 226.4 L461.4 204.5Z" fill="#ab0a2b" filter="url(#b4)"/>
<path d="M508.3 145.0 L542.8 132.5 L564.7 116.9 L583.5 138.8 L596.0 170.1 L611.6 195.1 L630.4 208.3 L646.1 223.9 L649.8 251.5 L646.1 276.5 L630.4 289.0 L605.4 295.3 L593.5 282.8 L587.2 257.7 L581.0 238.9 L568.4 223.3 L555.9 207.6 L543.4 189.5 L527.7 180.1 L515.2 164.4Z" fill="#93052c" filter="url(#b3)"/>
<path d="M621.0 202.0 L639.8 209.2 L668.0 210.8 L663.3 229.6 L657.0 251.5 L652.9 276.5 L649.2 295.3 L630.4 290.6 L646.1 276.5 L649.8 251.5 L646.1 224.9 L630.4 209.2Z" fill="#e12127" filter="url(#b3)"/>
<ellipse cx="646.1" cy="212.7" rx="11.3" ry="4.4" fill="#ec3c28" filter="url(#b3)"/>
<ellipse cx="551.5" cy="151.9" rx="8.1" ry="6.3" fill="#e12127" filter="url(#b3)" opacity="0.8"/>
<ellipse cx="599.7" cy="227.1" rx="19.4" ry="18.8" fill="#900d46" filter="url(#b5)"/>
<ellipse cx="599.1" cy="225.8" rx="12.5" ry="11.9" fill="#9d1158" filter="url(#b5)"/>
<path d="M493.0 94.6 L509.2 87.7 L536.8 90.0 L555.3 106.1 L569.1 129.2 L583.0 147.6 L583.0 203.0 L557.6 203.0 L548.4 179.9 L551.8 156.9 L542.6 137.3 L527.6 118.8 L509.2 107.3 L495.3 104.3Z" fill="#93052c" filter="url(#b3)"/>
<path d="M509.2 138.9 L527.6 136.1 L541.4 143.0 L539.1 156.9 L523.0 161.9 L511.5 152.7Z" fill="#93052c" filter="url(#b3)"/>
<ellipse cx="551.8" cy="152.7" rx="8.3" ry="6.9" fill="#d21027" filter="url(#b3)"/>
<ellipse cx="504.5" cy="124.6" rx="28.8" ry="14.3" fill="#e12127" filter="url(#b4)"/>
<ellipse cx="502.7" cy="123.7" rx="16.6" ry="8.8" fill="#ec3c28" filter="url(#b2_5)"/>
<ellipse cx="502.7" cy="123.7" rx="9.2" ry="4.2" fill="#f5622c" filter="url(#b2_5)" opacity="0.5"/>
<path d="M399.6 58.8 L401.9 50.8 L408.8 47.3 L414.6 51.9 L411.8 62.3 L408.1 83.1 L414.6 105.0 L437.7 118.8 L460.7 114.9 L476.9 105.0 L482.6 120.0 L472.7 138.9 L449.2 148.1 L421.5 143.5 L402.6 129.7 L394.3 106.1 L394.3 78.5Z" fill="#93052c" filter="url(#b3)"/>
<path d="M403.1 96.9 L416.9 113.5 L437.7 122.7 L458.4 118.1 L472.7 108.9 L475.0 122.7 L461.2 134.3 L437.7 138.9 L416.9 134.3 L405.4 120.4Z" fill="#a5074b" filter="url(#b3)"/>
<ellipse cx="436.5" cy="120.4" rx="21.9" ry="7.4" fill="#8c1c7c" filter="url(#b3)"/>
<path d="M615.1 246.0 L652.7 246.0 L652.7 282.6 L638.8 285.2 L625.0 279.7 L617.1 267.8Z" fill="#93052c" filter="url(#b3)"/>
<path d="M593.4 282.6 L623.0 286.6 L642.8 285.6 L651.7 283.6 L650.7 296.5 L632.9 299.4 L611.2 297.4 L597.3 291.5Z" fill="#b3082a" filter="url(#b4)" opacity="0.7"/>
<path d="M591.7 338.2 L651.5 338.2 L660.5 350.9 L654.2 367.2 L646.0 379.0 L634.3 373.5 L622.5 377.1 L610.7 366.3 L598.9 356.3Z" fill="#ec3c28" filter="url(#b4)"/>
<path d="M597.1 338.2 L651.5 338.2 L658.7 350.9 L651.5 365.4 L644.2 375.3 L633.7 369.9 L622.5 373.5 L612.0 362.7 L601.6 353.6Z" fill="#e12127" filter="url(#b3)"/>
<path d="M609.8 338.2 L647.9 338.2 L651.5 350.9 L644.2 361.7 L631.5 361.7 L618.9 356.3 L612.5 347.2Z" fill="#d21027" filter="url(#b4)" opacity="0.8"/>
<path d="M206.8 103.6 L223.6 131.6 L240.4 148.4 L258.6 162.4 L274.0 168.6 L287.5 168.0 L295.9 156.8 L297.6 142.8 L294.2 131.6 L288.0 124.6 L275.4 100.8 L251.6 95.2Z" fill="#a5074b" filter="url(#b3)"/>
<ellipse cx="288.0" cy="145.6" rx="9.5" ry="16.8" fill="#93052c" filter="url(#b3)" opacity="0.85" transform="rotate(-20 288.0 145.6)"/>
<ellipse cx="492.0" cy="213.0" rx="19.5" ry="18.0" fill="#93052c" filter="url(#b4)"/>
<ellipse cx="492.0" cy="212.5" rx="12.0" ry="11.0" fill="#900d46" filter="url(#b4)"/>
<ellipse cx="492.0" cy="212.5" rx="7.0" ry="6.5" fill="#9d1158" filter="url(#b4)"/>
</g>
<path d="M58.0 4.5 L95.0 1.0 L132.0 -3.0 L131.0 6.0 L244.0 43.0 L331.0 43.5 L331.0 29.5 L383.5 29.5 L391.0 37.5 L401.0 45.0 L408.5 51.0 L413.5 55.0 L423.0 60.0 L432.0 66.0 L438.0 76.0 L443.0 88.0 L447.0 98.0 L455.0 104.0 L465.0 110.0 L476.0 113.0 L485.0 107.0 L490.0 100.0 L496.0 95.0 L504.0 91.0 L512.0 89.0 L522.0 90.0 L534.5 91.0 L542.0 96.0 L549.5 102.5 L557.0 110.0 L562.0 117.5 L567.0 127.5 L573.0 137.5 L579.5 145.0 L584.5 152.0 L592.0 159.5 L597.0 167.0 L599.5 177.0 L603.0 187.0 L608.0 196.0 L617.0 199.5 L627.0 203.0 L637.0 207.0 L647.0 208.0 L657.0 209.5 L667.0 210.0 L664.5 217.0 L662.0 224.5 L658.0 234.5 L654.5 244.5 L652.0 254.5 L649.5 267.0 L649.0 277.0 L648.0 289.5 L648.0 304.0 L649.0 314.0 L648.0 324.0 L652.0 334.0 L659.5 341.5 L662.0 349.0 L659.5 354.0 L662.0 361.5 L667.0 369.0 L672.0 376.5 L678.0 384.0 L684.5 391.5 L689.5 400.0 L693.0 409.0 L698.0 419.0 L703.0 428.0 L709.5 433.0 L719.5 435.0 L729.5 436.5 L737.0 440.0 L744.5 445.0 L752.0 449.0 L759.5 450.0 L768.0 449.0 L783.0 443.0 L800.5 439.0 L818.0 436.5 L830.5 434.0 L845.5 429.0 L853.0 424.0 L860.5 418.0 L865.5 409.0 L869.0 400.0 L872.0 389.0 L873.0 379.0 L874.0 369.0 L878.0 363.0 L888.0 356.5 L900.5 353.0 L913.0 350.0 L928.0 348.0 L943.0 345.0 L960.5 346.5 L975.5 345.0 L982.0 348.0 L984.0 354.0 L980.5 364.0 L973.0 373.0 L968.0 379.0 L963.0 386.5 L962.0 396.5 L960.5 404.0 L962.0 414.0 L958.0 421.5 L956.0 431.5 L954.0 441.0 L951.0 449.0 L948.5 446.0 L948.0 436.0 L945.5 430.0 L943.0 436.0 L941.0 444.0 L937.5 444.8 L933.7 447.0 L926.0 453.4 L918.8 458.4 L912.7 462.6 L857.0 464.5 L857.0 480.0 L848.0 482.5 L855.5 490.0 L864.0 496.0 L868.0 502.5 L874.0 507.5 L873.0 516.0 L833.0 517.0 L825.5 532.5 L820.5 542.5 L822.0 550.0 L819.0 564.0 L808.0 555.0 L798.0 547.5 L788.0 537.5 L778.0 527.5 L768.0 519.0 L757.0 514.0 L747.0 511.0 L737.0 509.0 L729.5 514.0 L719.5 517.5 L707.0 521.0 L692.0 527.5 L684.5 529.0 L672.0 525.0 L657.0 520.0 L642.0 515.0 L629.5 509.0 L619.5 505.0 L607.0 501.0 L592.0 497.5 L577.0 491.0 L562.0 485.0 L547.0 479.0 L534.5 472.5 L522.0 462.5 L512.0 457.5 L501.0 456.0 L486.0 450.0 L473.5 444.0 L463.5 436.5 L451.0 429.0 L441.0 421.5 L431.0 416.5 L421.0 409.0 L415.0 399.0 L410.0 389.0 L408.5 381.5 L420.0 376.5 L412.0 370.0 L416.0 364.0 L421.0 358.0 L418.5 348.0 L412.0 339.0 L408.5 329.0 L406.0 319.0 L403.5 311.5 L396.0 304.0 L386.0 292.0 L378.5 284.5 L371.0 277.0 L363.5 271.0 L356.0 263.0 L348.5 257.0 L338.5 249.5 L333.5 242.0 L326.0 234.5 L316.0 227.0 L306.0 221.0 L297.0 218.0 L295.0 212.0 L297.0 202.0 L291.0 193.0 L281.0 187.0 L271.0 179.5 L261.0 169.5 L256.0 164.5 L255.5 150.0 L242.5 145.0 L234.0 140.0 L225.0 132.5 L217.5 124.0 L212.5 117.5 L209.0 110.0 L205.0 102.5 L197.5 92.5 L191.0 82.5 L189.0 72.5 L185.0 62.5 L184.0 52.5 L179.0 46.0 L170.0 44.0 L160.0 40.0 L152.5 36.0 L144.6 34.7 L134.7 32.3 L129.5 33.0 L126.5 28.5 L123.2 23.5 L123.3 28.5 L124.8 35.0 L126.8 41.0 L128.5 47.0 L129.8 53.0 L132.5 62.5 L135.0 75.0 L136.0 84.0 L142.5 87.5 L149.8 95.4 L159.0 104.5 L168.0 113.6 L177.0 123.5 L184.3 131.7 L188.8 139.0 L190.6 146.2 L194.3 153.5 L200.6 159.8 L207.9 166.2 L215.0 175.2 L220.0 182.5 L227.5 189.5 L232.5 197.0 L236.0 206.0 L240.0 214.5 L246.0 224.5 L250.0 232.0 L255.5 239.5 L259.0 247.0 L262.0 256.0 L266.0 264.5 L281.0 272.0 L291.0 282.0 L293.5 292.0 L288.5 302.0 L279.0 306.0 L271.0 297.0 L263.5 287.0 L256.0 277.0 L247.5 271.0 L237.5 263.0 L227.5 257.0 L220.0 251.0 L215.0 244.5 L212.5 237.0 L214.0 227.0 L212.5 217.0 L207.5 208.0 L200.0 201.0 L193.4 200.0 L188.0 194.0 L182.5 188.0 L180.7 180.7 L178.8 178.0 L175.0 182.5 L169.8 184.3 L164.0 183.4 L160.7 179.8 L153.5 177.0 L146.0 172.5 L140.8 169.8 L138.0 164.0 L131.7 159.8 L126.0 157.0 L122.3 152.0 L131.7 153.0 L139.0 152.6 L144.4 149.8 L149.0 145.3 L151.7 140.8 L152.6 135.3 L150.7 130.8 L144.4 125.4 L135.0 119.0 L126.0 112.0 L117.0 104.5 L108.0 97.0 L101.8 91.8 L99.5 84.0 L97.5 75.0 L91.0 70.0 L87.5 61.0 L82.5 54.0 L79.5 45.0 L74.5 37.5 L72.5 31.0 L69.0 25.0 L65.5 17.5 L61.0 11.0Z" fill="none" stroke="#3a1015" stroke-width="0.7" opacity="0.6"/>
<path d="M58.0 4.5 L95.0 1.0 L132.0 -3.0 L131.0 6.0 L244.0 43.0 L331.0 43.5 L331.0 29.5 L383.5 29.5 L391.0 37.5 L401.0 45.0 L408.5 51.0 L413.5 55.0 L423.0 60.0 L432.0 66.0 L438.0 76.0 L443.0 88.0 L447.0 98.0 L455.0 104.0 L465.0 110.0 L476.0 113.0 L485.0 107.0 L490.0 100.0 L496.0 95.0 L504.0 91.0 L512.0 89.0 L522.0 90.0 L534.5 91.0 L542.0 96.0 L549.5 102.5 L557.0 110.0 L562.0 117.5 L567.0 127.5 L573.0 137.5 L579.5 145.0 L584.5 152.0 L592.0 159.5 L597.0 167.0 L599.5 177.0 L603.0 187.0 L608.0 196.0 L617.0 199.5 L627.0 203.0 L637.0 207.0 L647.0 208.0 L657.0 209.5 L667.0 210.0" fill="none" stroke="#2a0a10" stroke-width="1" opacity="0.65"/>
<path d="M470.0 118.0 L474.0 135.0 L472.0 150.0 L478.0 165.0 L490.0 178.0 L505.0 186.0 L520.0 190.0" fill="none" stroke="#e88a9a" stroke-width="0.8" stroke-dasharray="1.6 1.2" opacity="0.5"/>
<path d="M490.0 178.0 L488.0 195.0 L492.0 205.0" fill="none" stroke="#e88a9a" stroke-width="0.8" stroke-dasharray="1.6 1.2" opacity="0.5"/>
<path d="M505.0 186.0 L512.0 200.0 L525.0 205.0 L535.0 200.0" fill="none" stroke="#e88a9a" stroke-width="0.8" stroke-dasharray="1.6 1.2" opacity="0.5"/>
<path d="M599.0 160.0 L602.0 180.0 L604.0 200.0 L600.0 222.0 L596.0 240.0 L590.0 258.0 L587.3 269.4" fill="none" stroke="#e88a9a" stroke-width="0.8" stroke-dasharray="1.6 1.2" opacity="0.5"/>
<path d="M442.5 196.0 L447.5 190.0 L455.0 180.0 L460.0 162.5 L462.5 145.0 L463.7 130.0 L470.0 118.0" fill="none" stroke="#e88a9a" stroke-width="0.8" stroke-dasharray="1.6 1.2" opacity="0.5"/>
<path d="M640.0 470.0 L648.0 472.0 L654.0 468.0 L660.0 472.0 L668.0 470.0 L675.0 476.0 L683.0 480.0" fill="none" stroke="#e88a9a" stroke-width="0.8" stroke-dasharray="1.6 1.2" opacity="0.5"/>
<path d="M370.0 175.0 L372.0 185.0 L376.0 195.0 L384.0 200.0" fill="none" stroke="#e88a9a" stroke-width="0.8" stroke-dasharray="1.6 1.2" opacity="0.5"/>
<path d="M149.0 146.7 L190.6 146.7" fill="none" stroke="#22080a" stroke-width="1.45" stroke-linejoin="round" stroke-linecap="round" opacity="0.8"/>
<path d="M313.0 45.2 L314.6 64.5 L320.5 88.2 L316.0 106.0 L314.6 117.9 L320.5 129.7 L321.0 135.0 L305.5 138.6 L304.5 145.5 L310.0 155.0 L320.0 165.0 L332.5 176.0 L337.5 187.5 L345.0 200.0 L355.0 205.0 L360.0 212.5 L365.0 220.0 L375.0 222.0 L382.5 215.0 L385.0 205.0 L390.0 192.5 L395.0 183.7 L405.0 186.0 L415.0 191.0 L425.0 193.7 L435.0 194.5 L442.5 196.0" fill="none" stroke="#22080a" stroke-width="1.45" stroke-linejoin="round" stroke-linecap="round" opacity="0.8"/>
<path d="M362.5 222.5 L362.5 232.5 L367.5 242.5 L375.0 252.5 L382.5 260.0 L392.5 260.0 L397.5 270.0 L402.5 282.5 L412.5 295.0 L415.0 307.5 L422.5 310.0 L432.5 315.0 L447.5 316.0 L451.0 320.0" fill="none" stroke="#22080a" stroke-width="1.45" stroke-linejoin="round" stroke-linecap="round" opacity="0.8"/>
<path d="M415.0 307.5 L409.0 312.0" fill="none" stroke="#22080a" stroke-width="1.45" stroke-linejoin="round" stroke-linecap="round" opacity="0.8"/>
<path d="M465.0 320.0 L462.5 313.7 L457.5 310.0 L453.7 300.0 L456.0 290.0 L463.7 280.0 L462.5 270.0 L466.0 262.0 L472.5 262.5 L485.0 257.5 L497.5 255.0 L502.5 247.5 L500.0 240.0 L485.0 235.0 L477.5 227.5 L475.0 217.5 L480.0 205.0 L482.5 200.0" fill="none" stroke="#22080a" stroke-width="1.45" stroke-linejoin="round" stroke-linecap="round" opacity="0.8"/>
<path d="M500.0 240.0 L509.4 235.5 L522.0 240.0 L528.0 246.4 L540.7 244.8 L550.0 243.3 L554.8 237.0 L562.6 230.8 L567.3 230.8" fill="none" stroke="#22080a" stroke-width="1.45" stroke-linejoin="round" stroke-linecap="round" opacity="0.8"/>
<path d="M561.0 166.6 L553.0 182.0 L547.0 196.0 L554.8 212.0 L562.6 224.5 L567.3 230.8" fill="none" stroke="#22080a" stroke-width="1.45" stroke-linejoin="round" stroke-linecap="round" opacity="0.8"/>
<path d="M553.7 257.5 L547.0 265.0 L550.0 274.6 L543.8 280.8 L531.3 287.0 L522.0 290.0 L512.5 290.0 L512.5 302.7 L518.8 315.0 L522.5 312.5 L530.0 316.0 L538.7 311.0 L541.0 317.5 L540.0 327.5 L535.0 336.0 L532.5 345.0 L530.0 352.5 L525.0 362.5 L520.0 370.0 L518.7 377.5 L521.0 385.0" fill="none" stroke="#22080a" stroke-width="1.45" stroke-linejoin="round" stroke-linecap="round" opacity="0.8"/>
<path d="M587.3 269.4 L585.3 273.4 L583.4 281.3 L581.4 289.0 L579.4 297.0 L578.4 303.0" fill="none" stroke="#22080a" stroke-width="1.45" stroke-linejoin="round" stroke-linecap="round" opacity="0.8"/>
<path d="M567.3 230.8 L559.6 232.0 L558.7 240.0 L555.7 249.6 L553.7 257.5 L559.6 259.5 L563.6 269.4 L565.6 279.3 L566.6 289.0 L569.5 295.0 L575.5 297.0 L578.4 303.0 L579.4 309.0 L585.3 310.0 L593.2 311.0 L601.0 313.0 L605.0 318.8 L613.0 320.8 L622.9 320.8 L630.8 322.8 L636.7 326.7 L642.6 330.7 L650.0 335.0" fill="none" stroke="#22080a" stroke-width="1.45" stroke-linejoin="round" stroke-linecap="round" opacity="0.8"/>
<path d="M605.0 318.8 L606.0 328.0 L603.0 336.0 L606.0 345.0" fill="none" stroke="#22080a" stroke-width="1.45" stroke-linejoin="round" stroke-linecap="round" opacity="0.8"/>
<path d="M451.0 320.0 L450.0 327.5 L455.0 337.5 L465.0 342.5 L472.5 345.0 L470.0 352.5 L462.5 355.0 L452.5 360.0 L450.0 370.0 L451.0 373.7" fill="none" stroke="#22080a" stroke-width="1.45" stroke-linejoin="round" stroke-linecap="round" opacity="0.8"/>
<path d="M462.5 313.7 L467.5 320.0 L475.0 323.7 L483.7 321.0 L486.0 326.0 L480.0 332.5 L475.0 337.5 L472.5 345.0 L475.0 355.0 L482.5 358.7 L492.5 356.0 L500.0 350.0 L501.0 342.5 L495.0 338.7 L497.5 330.0 L505.0 323.7 L512.5 320.0 L520.0 327.5 L523.7 333.7 L532.5 336.0" fill="none" stroke="#22080a" stroke-width="1.45" stroke-linejoin="round" stroke-linecap="round" opacity="0.8"/>
<path d="M495.0 338.7 L500.0 341.0 L510.0 341.0 L517.5 339.0 L523.7 333.7" fill="none" stroke="#22080a" stroke-width="1.45" stroke-linejoin="round" stroke-linecap="round" opacity="0.8"/>
<path d="M521.0 385.0 L512.5 385.0 L500.0 388.7 L490.0 392.5 L488.7 395.0 L495.0 397.5 L500.0 407.5 L501.0 420.0 L497.0 428.0" fill="none" stroke="#22080a" stroke-width="1.45" stroke-linejoin="round" stroke-linecap="round" opacity="0.8"/>
<path d="M521.0 385.0 L530.0 386.0 L537.5 392.5 L545.0 393.7 L550.0 392.5" fill="none" stroke="#22080a" stroke-width="1.45" stroke-linejoin="round" stroke-linecap="round" opacity="0.8"/>
<path d="M535.0 336.0 L545.0 340.0 L560.0 343.7 L570.0 347.5 L582.5 350.0 L588.7 352.5 L592.5 350.0 L597.5 355.0" fill="none" stroke="#22080a" stroke-width="1.45" stroke-linejoin="round" stroke-linecap="round" opacity="0.8"/>
<path d="M455.0 409.0 L460.0 404.0 L466.0 402.0 L472.0 405.0 L476.0 410.0 L480.0 416.0 L486.0 418.0 L492.0 415.0 L497.0 420.0" fill="none" stroke="#22080a" stroke-width="1.45" stroke-linejoin="round" stroke-linecap="round" opacity="0.8"/>
<path d="M476.0 410.0 L474.0 418.0 L476.0 427.0" fill="none" stroke="#22080a" stroke-width="1.45" stroke-linejoin="round" stroke-linecap="round" opacity="0.8"/>
<path d="M550.0 392.5 L555.4 394.3 L562.7 394.3 L568.1 392.5 L570.8 387.1 L573.6 391.6 L577.2 394.3" fill="none" stroke="#22080a" stroke-width="1.45" stroke-linejoin="round" stroke-linecap="round" opacity="0.8"/>
<path d="M577.2 394.3 L575.4 401.6 L572.6 408.8 L569.9 416.1 L567.2 423.3 L562.7 428.8 L557.2 432.4 L559.1 437.8 L564.5 441.4 L569.9 444.2 L575.4 438.7 L582.6 436.9 L589.9 434.2 L597.1 430.6 L601.6 427.0" fill="none" stroke="#22080a" stroke-width="1.45" stroke-linejoin="round" stroke-linecap="round" opacity="0.8"/>
<path d="M557.2 432.4 L552.0 440.0 L542.5 442.5 L535.0 447.5 L528.0 452.0 L520.0 450.0 L512.0 455.0" fill="none" stroke="#22080a" stroke-width="1.45" stroke-linejoin="round" stroke-linecap="round" opacity="0.8"/>
<path d="M564.5 371.7 L567.2 367.2 L575.4 365.4 L581.7 359.0 L582.6 353.6 L588.9 350.0 L590.8 355.4 L587.1 361.7 L585.3 369.0 L580.8 374.4 L577.2 378.9 L579.9 385.3 L582.6 387.1 L583.5 392.5 L577.2 394.3" fill="none" stroke="#22080a" stroke-width="1.45" stroke-linejoin="round" stroke-linecap="round" opacity="0.8"/>
<path d="M564.5 371.7 L565.4 376.2 L567.2 379.9 L569.9 386.2 L570.8 387.1" fill="none" stroke="#22080a" stroke-width="1.45" stroke-linejoin="round" stroke-linecap="round" opacity="0.8"/>
<path d="M588.9 350.0 L595.3 347.2 L602.5 350.9 L606.2 345.4 L611.6 350.9 L618.8 354.5 L626.1 352.7 L629.7 358.1 L627.9 365.4 L626.1 372.6 L629.7 376.2 L635.1 374.4 L640.6 370.8 L644.2 372.6 L648.7 369.9 L651.4 376.2 L649.6 383.5 L655.1 388.0 L660.5 388.0" fill="none" stroke="#22080a" stroke-width="1.45" stroke-linejoin="round" stroke-linecap="round" opacity="0.8"/>
<path d="M583.5 392.5 L584.4 387.1 L593.5 388.9 L598.9 394.3 L602.5 398.9 L606.2 394.3 L611.6 393.4 L614.3 397.1 L620.7 399.8 L624.3 403.4 L629.7 401.6 L635.1 398.0 L640.6 394.3 L646.0 392.5 L649.6 383.5" fill="none" stroke="#22080a" stroke-width="1.45" stroke-linejoin="round" stroke-linecap="round" opacity="0.8"/>
<path d="M622.5 401.6 L622.5 408.8 L621.6 417.9 L620.7 425.1 L618.8 432.4 L611.6 434.2 L604.3 430.6 L601.6 427.0" fill="none" stroke="#22080a" stroke-width="1.45" stroke-linejoin="round" stroke-linecap="round" opacity="0.8"/>
<path d="M602.5 416.1 L608.0 409.7 L612.5 416.1 L613.4 422.4 L608.0 425.1 L603.4 421.5 L602.5 416.1" fill="none" stroke="#22080a" stroke-width="1.45" stroke-linejoin="round" stroke-linecap="round" opacity="0.8"/>
<path d="M601.6 427.0 L598.9 434.2 L602.5 441.4 L609.8 445.1 L617.0 444.2 L619.7 437.8 L618.8 432.4" fill="none" stroke="#22080a" stroke-width="1.45" stroke-linejoin="round" stroke-linecap="round" opacity="0.8"/>
<path d="M622.5 408.8 L629.7 407.0 L637.0 403.4 L644.2 408.8 L651.4 412.5 L653.3 416.1 L646.0 419.7 L638.8 420.6 L635.1 424.2 L629.7 421.5 L626.1 414.3 L622.5 408.8" fill="none" stroke="#22080a" stroke-width="1.45" stroke-linejoin="round" stroke-linecap="round" opacity="0.8"/>
<path d="M660.5 388.0 L665.9 392.5 L664.1 399.8 L660.5 405.2 L662.3 412.5 L667.8 414.3 L673.2 417.9 L671.4 423.3 L665.9 425.1 L662.3 430.6 L665.9 436.0 L673.2 438.7 L680.4 437.8 L684.1 441.4" fill="none" stroke="#22080a" stroke-width="1.45" stroke-linejoin="round" stroke-linecap="round" opacity="0.8"/>
<path d="M684.0 441.4 L690.0 445.0 L695.0 452.5 L705.0 456.0 L712.5 462.5 L720.0 468.7 L727.5 467.5 L730.0 475.0 L737.5 481.0 L750.0 482.5 L762.5 482.5 L770.0 482.5" fill="none" stroke="#22080a" stroke-width="1.45" stroke-linejoin="round" stroke-linecap="round" opacity="0.8"/>
<path d="M677.5 443.7 L670.0 448.7 L660.0 452.5 L650.0 450.0 L647.5 455.0 L637.5 458.7 L627.5 460.0 L630.0 470.0 L637.5 480.0 L638.7 492.5 L632.5 500.0 L630.0 506.0" fill="none" stroke="#22080a" stroke-width="1.45" stroke-linejoin="round" stroke-linecap="round" opacity="0.8"/>
<path d="M627.5 460.0 L627.5 462.5 L622.0 458.0 L615.0 452.0 L607.5 447.5 L606.0 446.0" fill="none" stroke="#22080a" stroke-width="1.45" stroke-linejoin="round" stroke-linecap="round" opacity="0.8"/>
<path d="M770.0 482.5 L767.5 492.5 L765.0 502.5 L767.5 510.0 L770.0 515.0" fill="none" stroke="#22080a" stroke-width="1.45" stroke-linejoin="round" stroke-linecap="round" opacity="0.8"/>
<path d="M761.0 451.0 L762.5 460.0 L766.0 468.7 L770.0 476.0 L770.0 482.5 L775.0 475.0 L780.0 467.5 L785.0 460.0 L790.0 462.5 L795.0 472.5 L802.5 475.0 L810.0 470.0 L817.5 465.0 L825.0 461.0 L830.0 462.5 L835.0 470.0 L840.0 475.0 L845.0 478.7 L855.0 478.7" fill="none" stroke="#22080a" stroke-width="1.45" stroke-linejoin="round" stroke-linecap="round" opacity="0.8"/>
<path d="M820.0 440.0 L822.5 452.5 L825.0 461.0" fill="none" stroke="#22080a" stroke-width="1.45" stroke-linejoin="round" stroke-linecap="round" opacity="0.8"/>
<path d="M873.0 369.4 L884.0 379.3 L894.0 391.7 L901.5 401.5 L910.0 407.7 L912.7 412.7 L912.7 462.6" fill="none" stroke="#22080a" stroke-width="1.45" stroke-linejoin="round" stroke-linecap="round" opacity="0.8"/>
<path d="M910.0 407.7 L918.8 399.0 L928.7 389.0 L938.6 381.8 L948.5 374.4 L956.0 364.5 L960.8 354.6 L961.3 348.4" fill="none" stroke="#22080a" stroke-width="1.45" stroke-linejoin="round" stroke-linecap="round" opacity="0.8"/>
<path d="M912.7 462.6 L857.0 464.5 L857.0 480.0 L848.0 482.5 L855.5 490.0 L864.0 496.0 L868.0 502.5 L874.0 507.5 L873.0 516.0 L833.0 517.0 L825.5 532.5 L820.5 542.5 L822.0 550.0 L819.0 564.0" fill="none" stroke="#22080a" stroke-width="1.45" stroke-linejoin="round" stroke-linecap="round" opacity="0.8"/>
<path d="M667.0 210.0 L664.5 205.0 L663.0 200.0 L661.0 194.0 L659.5 189.5 L658.0 183.0 L657.0 177.0 L655.5 173.0 L655.0 169.0 L658.0 167.5 L656.0 165.5 L653.5 166.5 L654.0 163.5 L657.5 163.0 L661.0 161.0 L660.0 158.0 L662.5 156.5 L663.0 152.0 L660.5 151.0 L662.0 148.5 L666.0 146.0 L670.0 142.0 L674.0 139.5 L677.0 136.0 L680.0 133.0 L681.5 129.5 L684.0 130.5 L683.0 127.0 L686.0 124.5 L688.0 127.0 L690.5 129.0 L693.0 126.5 L697.0 127.5 L703.0 124.0 L709.5 120.0 L716.0 116.0 L722.0 112.5 L727.0 108.5 L732.0 105.0 L735.0 101.0 L733.5 97.5 L736.0 95.0 L737.0 98.5 L739.0 96.0 L741.0 99.5 L744.0 100.5 L747.0 99.0 L752.0 96.5 L757.0 94.0 L762.0 91.0 L767.5 89.0 L766.0 92.0 L768.0 92.5 L775.0 91.0 L783.0 91.0 L792.0 93.0 L800.5 95.0 L809.0 96.5 L818.0 97.5 L820.0 94.0 L819.0 90.5 L822.0 89.0 L824.0 92.0 L828.0 91.0 L831.0 89.0 L835.5 92.5 L839.0 96.0 L843.0 99.0 L848.0 102.0 L853.0 105.0 L857.0 106.0 L860.0 108.0 L862.0 111.5 L865.0 109.0 L868.0 106.0 L870.5 104.0 L873.0 106.0 L876.0 108.5 L880.0 109.0 L883.0 110.0 L884.0 107.0 L881.0 104.0 L882.0 99.0 L885.0 101.5 L888.0 101.0 L891.0 98.5 L893.0 100.0 L898.0 101.0 L901.0 104.0 L903.0 105.0 L906.0 105.5 L908.0 107.5 L911.0 107.0 L913.0 108.0 L916.0 110.0 L915.0 113.0 L912.0 115.0 L910.0 113.0 L908.0 117.5 L905.5 117.0 L906.0 112.0 L903.0 107.5 L900.0 104.5 L897.0 101.0 L895.5 96.0 L897.0 93.5 L901.0 92.5 L903.0 90.0 L900.5 88.0 L898.0 87.0 L895.0 86.5 L893.0 84.0 L891.0 82.0 L893.0 80.0 L896.0 79.0 L899.0 77.0 L902.0 75.0 L905.5 74.0 L909.0 73.0 L913.0 72.0 L917.0 71.5 L920.5 71.0 L927.0 70.5 L933.0 71.0 L938.0 72.0 L943.0 72.5 L944.5 69.0 L945.5 64.0 L947.0 61.5 L948.5 65.0 L949.5 70.0 L950.5 75.0 L954.0 75.5 L957.0 75.0 L960.0 74.5 L963.0 74.0 L965.0 71.5 L968.0 70.0 L970.0 72.5 L973.0 70.5 L975.5 71.0 L978.0 69.0 L980.0 69.0 L983.0 71.0 L985.5 71.0 L991.0 70.5 L997.0 70.0" fill="none" stroke="#444" stroke-width="0.9"/>
<path d="M937.5 444.8 L942.0 448.0 L940.5 455.0 L939.0 467.5 L940.5 475.0 L939.0 487.5 L935.5 502.5 L928.0 512.5 L920.5 520.0 L918.0 523.7 L924.0 521.5 L928.0 521.0 L930.5 527.0 L926.0 527.5 L918.0 531.0 L908.0 535.0 L905.5 537.0 L908.0 538.7 L915.5 536.0 L923.0 530.5 L930.5 526.5 L934.0 523.7 L943.0 527.5 L953.0 522.5 L963.0 523.7 L973.0 526.0 L985.5 526.0 L997.0 525.7" fill="none" stroke="#444" stroke-width="0.9"/>
<path d="M873.5 77.0 L876.0 73.5 L881.0 72.0 L887.0 73.0 L890.5 76.0 L889.0 80.0 L884.0 82.0 L878.0 81.5Z" fill="none" stroke="#444" stroke-width="0.9"/>
<path d="M214.0 225.0 L211.5 234.0 L211.0 244.0 L214.0 250.0 L220.0 255.0 L226.0 259.0" fill="none" stroke="#444" stroke-width="0.9"/>
<path d="M893.5 313.5 L895.5 312.5 L898.0 315.5 L898.5 320.0 L896.5 321.5 L894.5 318.5Z" fill="none" stroke="#444" stroke-width="0.9"/>
<path d="M965.0 453.0 L967.0 449.0 L969.5 449.0 L970.0 455.0 L968.0 460.0 L965.5 459.0Z" fill="none" stroke="#444" stroke-width="0.9"/>
<path d="M731.0 509.5 L734.0 506.5 L739.0 505.5 L744.0 507.0 L746.0 510.0 L742.0 512.5 L736.0 512.5Z" fill="#ffffff"/>
<path d="M748.5 512.0 L752.0 510.5 L756.0 511.5 L757.0 513.5 L752.0 514.5Z" fill="#ffffff"/>
<path d="M834.0 436.8 L839.0 434.3 L845.0 433.8 L848.5 436.2 L847.5 441.0 L842.0 443.0 L836.0 441.5Z" fill="#ffffff"/>
<path d="M842.5 328.5 L844.0 328.5 L844.0 330.0 L842.5 330.0Z" fill="#888"/>
<path d="M822.5 337.5 L824.0 337.5 L824.0 339.0 L822.5 339.0Z" fill="#aaa"/>
<path d="M816.0 364.5 L818.5 364.5 L819.0 366.5 L816.5 366.5Z" fill="#999"/>
<path d="M825.0 387.5 L826.5 387.5 L826.5 389.0 L825.0 389.0Z" fill="#aaa"/>
<path d="M165.6 98.2 L168.5 96.5 L171.5 98.5 L175.0 102.5 L178.5 107.0 L181.0 111.5 L181.7 115.5 L179.0 116.0 L176.0 112.0 L172.5 108.0 L169.0 104.0 L166.5 101.0Z" fill="#8a0e30"/>
<path d="M200.0 110.0 L203.0 108.0 L207.0 110.0 L208.5 116.0 L207.0 121.0 L203.0 122.5 L200.0 119.0 L199.0 114.0Z" fill="#960d3c"/>
<path d="M115.0 137.0 L117.5 135.5 L119.0 139.0 L118.0 144.0 L115.5 146.0 L114.0 142.0Z" fill="#666"/>
<path d="M977.0 383.0 L980.0 378.0 L984.0 375.5 L985.5 377.0 L982.0 381.0 L978.5 385.0Z" fill="#8a5548"/>
<path d="M184.0 122.0 L186.0 121.5 L187.0 124.0 L185.0 124.5Z" fill="#5a2030"/>
<path d="M189.0 126.0 L191.0 125.5 L192.0 127.5 L190.0 128.0Z" fill="#5a2030"/>
<path d="M196.0 124.0 L198.0 123.5 L198.5 125.5 L196.5 126.0Z" fill="#5a2030"/>
<path d="M214.0 166.0 L215.5 165.5 L216.0 168.0 L214.5 168.5Z" fill="#4a2a30"/>
<path d="M222.0 183.0 L224.0 183.0 L225.0 188.0 L223.0 188.0Z" fill="#4a2a30"/>
<path d="M240.0 208.0 L242.0 207.5 L243.0 212.0 L241.0 212.5Z" fill="#4a2a30"/>
<path d="M245.0 216.0 L246.5 216.0 L247.5 220.0 L246.0 220.5Z" fill="#4a2a30"/>
<path d="M256.0 236.0 L258.0 235.0 L259.5 241.0 L257.5 242.0Z" fill="#4a2a30"/>
<path d="M263.0 253.0 L265.0 252.0 L267.0 258.0 L265.0 259.0Z" fill="#4a2a30"/>
<path d="M277.0 260.0 L279.0 259.0 L281.0 266.0 L279.0 267.0Z" fill="#4a2a30"/>
<path d="M376.0 341.0 L378.0 340.0 L381.0 345.0 L384.0 349.0 L382.0 350.0 L378.0 346.0Z" fill="#444"/>
<path d="M386.0 351.0 L388.0 350.5 L389.5 353.0 L387.5 353.5Z" fill="#444"/>
<path d="M244.8 431.5 L247.0 431.0 L247.8 433.5 L245.6 434.2Z" fill="#555"/>
<path d="M249.5 415.8 L250.8 415.8 L250.8 417.3 L249.5 417.3Z" fill="#777"/>
<path d="M130.0 445.5 L132.5 445.5 L132.5 446.8 L130.0 446.8Z" fill="#666"/>
<line x1="124.0" y1="0" x2="124.0" y2="574.5" stroke="#000" stroke-width="1" stroke-dasharray="1.4 0.5" opacity="0.07"/>
<line x1="276.4" y1="0" x2="276.4" y2="574.5" stroke="#000" stroke-width="1" stroke-dasharray="1.4 0.5" opacity="0.07"/>
<line x1="428.8" y1="0" x2="428.8" y2="574.5" stroke="#000" stroke-width="1" stroke-dasharray="1.4 0.5" opacity="0.07"/>
<line x1="581.2" y1="0" x2="581.2" y2="574.5" stroke="#000" stroke-width="1" stroke-dasharray="1.4 0.5" opacity="0.07"/>
<line x1="733.6" y1="0" x2="733.6" y2="574.5" stroke="#000" stroke-width="1" stroke-dasharray="1.4 0.5" opacity="0.07"/>
<line x1="886.0" y1="0" x2="886.0" y2="574.5" stroke="#000" stroke-width="1" stroke-dasharray="1.4 0.5" opacity="0.07"/>
<line x1="55" y1="84.3" x2="997" y2="84.3" stroke="#000" stroke-width="1" stroke-dasharray="1.4 0.5" opacity="0.07"/>
<line x1="55" y1="239.6" x2="997" y2="239.6" stroke="#000" stroke-width="1" stroke-dasharray="1.4 0.5" opacity="0.07"/>
<line x1="55" y1="395.0" x2="997" y2="395.0" stroke="#000" stroke-width="1" stroke-dasharray="1.4 0.5" opacity="0.07"/>
<line x1="55" y1="550.4" x2="997" y2="550.4" stroke="#000" stroke-width="1" stroke-dasharray="1.4 0.5" opacity="0.07"/>
</g>
<path d="M55 0 V574.5 H997 V0" fill="none" stroke="#555" stroke-width="1.7"/>
<line x1="124.0" y1="574.5" x2="124.0" y2="581.0" stroke="#555" stroke-width="0.9"/>
<text x="124.2" y="598.7" font-size="21.6" text-anchor="middle" fill="#222">-115</text>
<line x1="276.4" y1="574.5" x2="276.4" y2="581.0" stroke="#555" stroke-width="0.9"/>
<text x="276.6" y="598.7" font-size="21.6" text-anchor="middle" fill="#222">-110</text>
<line x1="428.8" y1="574.5" x2="428.8" y2="581.0" stroke="#555" stroke-width="0.9"/>
<text x="429.0" y="598.7" font-size="21.6" text-anchor="middle" fill="#222">-105</text>
<line x1="581.2" y1="574.5" x2="581.2" y2="581.0" stroke="#555" stroke-width="0.9"/>
<text x="581.4" y="598.7" font-size="21.6" text-anchor="middle" fill="#222">-100</text>
<line x1="733.6" y1="574.5" x2="733.6" y2="581.0" stroke="#555" stroke-width="0.9"/>
<text x="733.8" y="598.7" font-size="21.6" text-anchor="middle" fill="#222">-95</text>
<line x1="886.0" y1="574.5" x2="886.0" y2="581.0" stroke="#555" stroke-width="0.9"/>
<text x="886.2" y="598.7" font-size="21.6" text-anchor="middle" fill="#222">-90</text>
<line x1="47.5" y1="84.3" x2="55" y2="84.3" stroke="#555" stroke-width="0.9"/>
<text x="43" y="92.0" font-size="21.6" text-anchor="end" fill="#222">30</text>
<line x1="47.5" y1="239.6" x2="55" y2="239.6" stroke="#555" stroke-width="0.9"/>
<text x="43" y="247.3" font-size="21.6" text-anchor="end" fill="#222">25</text>
<line x1="47.5" y1="395.0" x2="55" y2="395.0" stroke="#555" stroke-width="0.9"/>
<text x="43" y="402.7" font-size="21.6" text-anchor="end" fill="#222">20</text>
<line x1="47.5" y1="550.4" x2="55" y2="550.4" stroke="#555" stroke-width="0.9"/>
<text x="43" y="558.1" font-size="21.6" text-anchor="end" fill="#222">15</text>
<text transform="translate(12.6 286) rotate(-90)" font-size="20" font-weight="bold" text-anchor="middle" fill="#111">Latitud</text>
<text x="727" y="616.6" font-size="18.2" fill="#222">Basado en datos preliminares SIH</text>
<text x="65.5" y="488.7" font-size="15" fill="#262626" textLength="277" lengthAdjust="spacingAndGlyphs">Temperaturas máximas en grados Celsius (ºC)</text>
<text x="133.7" y="510.5" font-size="15" fill="#262626" textLength="132.3" lengthAdjust="spacingAndGlyphs">1.-Ojinaga, Chih.: 48.0</text>
<text x="133.7" y="526.3" font-size="15" fill="#262626" textLength="129.8" lengthAdjust="spacingAndGlyphs">2.-Mexicali, B.C.: 47.7</text>
<text x="133.7" y="542.5" font-size="15" fill="#262626" textLength="159.8" lengthAdjust="spacingAndGlyphs">3.-Cuauhtémoc, Son.: 47.5</text>
<path d="M120.3 501.8 L123.3 507.4 H117.3Z" fill="none" stroke="#666" stroke-width="1.2"/>
<path d="M120.3 518 L123.6 521.5 L120.3 525 L117 521.5Z" fill="none" stroke="#666" stroke-width="1.2"/>
<path d="M117.5 535.2 H123.5 L120.5 540.8Z" fill="none" stroke="#666" stroke-width="1.2"/>
<path d="M115.3 1.8 L123.4 9.6 L115.3 17.4 L107.2 9.6Z" fill="#8a1a8a" stroke="#4a2a9a" stroke-width="1.6" opacity="0.9"/>
<path d="M222 51.6 H239.6 L230.8 67.4Z" fill="#8a1a8a" stroke="#4a2a9a" stroke-width="1.6" opacity="0.9"/>
<path d="M435 102 L445 119.5 H425Z" fill="#8a1a8a" stroke="#4a2a9a" stroke-width="1.6" opacity="0.8"/>
<path d="M444.5 16.0 C446.0 16.0 449.8 18.4 452.4 20.8 C455.0 23.2 457.8 27.1 460.3 30.7 C462.8 34.3 465.2 38.8 467.2 42.6 C469.2 46.4 471.1 50.7 472.2 53.5 C473.3 56.3 472.9 59.5 474.0 59.4 C475.1 59.3 477.4 55.1 479.0 53.0 C480.6 50.9 482.0 46.1 483.5 47.0 C485.0 47.9 486.9 54.5 488.0 58.4 C489.1 62.3 490.0 66.0 490.3 70.3 C490.6 74.6 490.6 79.7 490.0 84.0 C489.4 88.3 488.1 92.3 486.5 96.0 C484.9 99.7 482.9 103.2 480.5 106.0 C478.1 108.8 475.4 110.8 472.0 112.8 C468.6 114.8 464.2 116.8 460.3 117.8 C456.4 118.8 452.4 118.9 448.4 118.7 C444.4 118.5 440.4 118.1 436.5 116.8 C432.6 115.5 428.3 113.6 424.7 110.8 C421.1 108.0 417.3 103.8 414.8 100.0 C412.3 96.2 410.7 92.0 409.8 88.0 C408.9 84.0 408.9 79.8 409.2 76.2 C409.5 72.6 410.7 69.3 411.8 66.3 C412.9 63.3 415.3 61.4 415.8 58.4 C416.3 55.4 414.6 51.9 414.6 48.5 C414.6 45.1 414.5 39.4 415.8 38.3 C417.1 37.1 420.4 40.1 422.7 41.6 C425.0 43.1 427.8 46.0 429.6 47.5 C431.4 49.0 432.3 51.6 433.6 50.8 C434.9 50.0 436.2 46.0 437.5 42.6 C438.8 39.2 440.5 34.3 441.5 30.7 C442.5 27.1 443.0 23.2 443.5 20.8 C444.0 18.4 443.0 16.0 444.5 16.0Z" fill="url(#fg1)"/>
<clipPath id="fclip"><path d="M444.5 16.0 C446.0 16.0 449.8 18.4 452.4 20.8 C455.0 23.2 457.8 27.1 460.3 30.7 C462.8 34.3 465.2 38.8 467.2 42.6 C469.2 46.4 471.1 50.7 472.2 53.5 C473.3 56.3 472.9 59.5 474.0 59.4 C475.1 59.3 477.4 55.1 479.0 53.0 C480.6 50.9 482.0 46.1 483.5 47.0 C485.0 47.9 486.9 54.5 488.0 58.4 C489.1 62.3 490.0 66.0 490.3 70.3 C490.6 74.6 490.6 79.7 490.0 84.0 C489.4 88.3 488.1 92.3 486.5 96.0 C484.9 99.7 482.9 103.2 480.5 106.0 C478.1 108.8 475.4 110.8 472.0 112.8 C468.6 114.8 464.2 116.8 460.3 117.8 C456.4 118.8 452.4 118.9 448.4 118.7 C444.4 118.5 440.4 118.1 436.5 116.8 C432.6 115.5 428.3 113.6 424.7 110.8 C421.1 108.0 417.3 103.8 414.8 100.0 C412.3 96.2 410.7 92.0 409.8 88.0 C408.9 84.0 408.9 79.8 409.2 76.2 C409.5 72.6 410.7 69.3 411.8 66.3 C412.9 63.3 415.3 61.4 415.8 58.4 C416.3 55.4 414.6 51.9 414.6 48.5 C414.6 45.1 414.5 39.4 415.8 38.3 C417.1 37.1 420.4 40.1 422.7 41.6 C425.0 43.1 427.8 46.0 429.6 47.5 C431.4 49.0 432.3 51.6 433.6 50.8 C434.9 50.0 436.2 46.0 437.5 42.6 C438.8 39.2 440.5 34.3 441.5 30.7 C442.5 27.1 443.0 23.2 443.5 20.8 C444.0 18.4 443.0 16.0 444.5 16.0Z"/></clipPath>
<g clip-path="url(#fclip)"><ellipse cx="449" cy="86" rx="33" ry="40" fill="url(#fg2)"/><ellipse cx="449" cy="95" rx="10" ry="12" fill="#fff3a0" filter="url(#b4)" opacity="0.75"/></g>
<g id="conagua">
<g id="conagua-drop">
<path d="M647.50 14.60 C646.32 16.05 642.77 20.15 640.40 23.30 C638.03 26.45 635.25 30.10 633.30 33.50 C631.35 36.90 629.55 40.63 628.70 43.70 C627.85 46.77 627.78 49.35 628.20 51.90 C628.62 54.45 629.68 57.05 631.20 59.00 C632.72 60.95 635.08 62.67 637.30 63.60 C639.52 64.53 642.12 64.85 644.50 64.60 C646.88 64.35 649.57 63.20 651.60 62.10 C653.63 61.00 655.50 59.28 656.70 58.00 C657.90 56.72 658.45 55.00 658.80 54.40 C658.17 54.47 656.37 54.67 655.00 54.80 C653.63 54.93 652.35 55.00 650.60 55.20 C648.85 55.40 646.22 55.98 644.50 56.00 C642.78 56.02 641.45 55.70 640.30 55.30 C639.15 54.90 638.35 54.68 637.60 53.60 C636.85 52.52 635.87 50.78 635.80 48.80 C635.73 46.82 636.37 44.08 637.20 41.70 C638.03 39.32 639.37 37.05 640.80 34.50 C642.23 31.95 644.68 29.72 645.80 26.40 C646.92 23.08 647.22 16.57 647.50 14.60Z" fill="#1c5184"/>
<path d="M647.50 14.60 C646.77 16.31 644.84 21.62 643.10 24.85 C641.36 28.08 638.74 31.02 637.05 34.00 C635.36 36.98 633.79 39.98 632.95 42.70 C632.11 45.43 631.76 48.08 632.00 50.35 C632.24 52.62 633.27 54.78 634.40 56.30 C635.53 57.82 637.12 58.78 638.80 59.45 C640.48 60.12 642.45 60.43 644.50 60.30 C646.55 60.17 650.00 58.93 651.10 58.65" fill="none" stroke="#69b4e2" stroke-width="1.5" stroke-linecap="round"/>
<path d="M647.50 14.60 C647.09 16.49 646.34 22.67 645.04 25.97 C643.75 29.26 641.26 31.69 639.75 34.36 C638.24 37.03 636.85 39.50 636.01 41.98 C635.17 44.46 634.62 47.17 634.74 49.23 C634.85 51.30 635.85 53.15 636.70 54.36 C637.56 55.56 638.58 55.99 639.88 56.46 C641.18 56.94 643.73 57.08 644.50 57.20" fill="none" stroke="#4a9ad0" stroke-width="1.1" stroke-linecap="round"/>
<path d="M637.5 55.2 C640 53.6 642 55.6 644.5 54.6 C647 53.6 649 55.4 651.5 54.4 C654 53.5 656 54.6 658.6 53.4" fill="none" stroke="#f2f2f2" stroke-width="0.9"/>
<path d="M636 58.2 C639 56.6 641.5 58.8 644.5 57.7 C647.5 56.6 650 58.4 653 57.2 C655 56.5 656.5 56.4 657.8 55.6" fill="none" stroke="#dfe9f2" stroke-width="0.8"/>
<path d="M639.6 49.6 C638.6 44.5 640.2 38.5 644.5 35.8 C648 33.6 652.6 34.6 654.6 37.6 C655.4 38.8 655.6 39.8 655.4 40.6 C656.6 41.4 657.6 42.8 658.2 44.6 C656.4 44 654.6 44.2 653.4 45.2 C653.2 48 650.4 50.2 646.6 50.8 C644 51.2 641.4 50.8 639.6 49.6Z" fill="#c9a373"/>
</g>
<text class="serif" x="669.5" y="42" font-size="31.5" fill="#6a6a6a" stroke="#6a6a6a" stroke-width="0.9" textLength="142" lengthAdjust="spacingAndGlyphs">CONAGUA</text>
<text x="670.5" y="55.6" font-size="5.6" font-weight="bold" fill="#7a7a7a" textLength="112.5" lengthAdjust="spacing">COMISIÓN NACIONAL DEL AGUA</text>
</g>
<line x1="834.4" y1="21" x2="834.4" y2="64" stroke="#c9ab86" stroke-width="1.2"/>
<g id="smn">
<g fill="none" stroke="#1d4c80" stroke-width="5.4" stroke-dasharray="7.02 1.5">
<path d="M880.96 18.51 A21.2 21.2 0 0 1 902.85 38.22"/>
<path d="M882.44 60.89 A21.2 21.2 0 0 1 860.55 41.18"/>
</g>
<g fill="none" stroke="#245f7e" stroke-width="1.7">
<path d="M881.06 21.41 A18.3 18.3 0 0 1 899.96 38.42"/>
<path d="M882.34 57.99 A18.3 18.3 0 0 1 863.44 40.98"/>
</g>
<g fill="none" stroke="#d8b57f" stroke-width="2.0" stroke-linecap="round" stroke-linejoin="round">
<path d="M883.00 39.70 L883.14 39.51 L883.25 39.29 L883.32 39.03 L883.35 38.75 L883.33 38.45 L883.26 38.14 L883.13 37.84 L882.95 37.53 L882.71 37.25 L882.42 37.00 L882.09 36.78 L881.70 36.60 L881.28 36.48 L880.82 36.42 L880.34 36.42 L879.85 36.50 L879.36 36.65 L878.87 36.87 L878.41 37.17 L877.98 37.55 L877.59 38.00 L877.26 38.51 L876.99 39.08 L876.80 39.70 L876.69 40.36 L876.68 41.05 L876.76 41.75 L876.94 42.45 L877.22 43.14 L877.60 43.80 L878.08 44.42 L878.65 44.98 L879.31 45.47 L880.04 45.88 L880.85 46.19 L881.70 46.40 L882.59 46.49 L883.51 46.46 L884.44 46.31 L885.35 46.02 L886.24 45.61 L887.07 45.07 L887.85 44.42 L888.54 43.65 L889.14 42.78 L889.62 41.82 L889.98 40.79 L890.20 39.70 L890.28 38.57 L890.20 37.42 L889.97 36.27 L889.58 35.15 L889.04 34.07 L888.35 33.05 L887.51 32.12 L886.55 31.30 L885.47 30.60 L884.29 30.04 L883.02 29.64 L881.70 29.40"/><path d="M880.40 39.70 L880.26 39.89 L880.15 40.11 L880.08 40.37 L880.05 40.65 L880.07 40.95 L880.14 41.26 L880.27 41.56 L880.45 41.87 L880.69 42.15 L880.98 42.40 L881.31 42.62 L881.70 42.80 L882.12 42.92 L882.58 42.98 L883.06 42.98 L883.55 42.90 L884.04 42.75 L884.53 42.53 L884.99 42.23 L885.42 41.85 L885.81 41.40 L886.14 40.89 L886.41 40.32 L886.60 39.70 L886.71 39.04 L886.72 38.35 L886.64 37.65 L886.46 36.95 L886.18 36.26 L885.80 35.60 L885.32 34.98 L884.75 34.42 L884.09 33.93 L883.36 33.52 L882.55 33.21 L881.70 33.00 L880.81 32.91 L879.89 32.94 L878.96 33.09 L878.05 33.38 L877.16 33.79 L876.33 34.33 L875.55 34.98 L874.86 35.75 L874.26 36.62 L873.78 37.58 L873.42 38.61 L873.20 39.70 L873.12 40.83 L873.20 41.98 L873.43 43.13 L873.82 44.25 L874.36 45.33 L875.05 46.35 L875.89 47.28 L876.85 48.10 L877.93 48.80 L879.11 49.36 L880.38 49.76 L881.70 50.00"/><path d="M881.70 29.40 C876.70 29.10 873.70 30.90 870.70 32.40 C867.70 33.70 862.20 33.40 860.20 28.90 C858.70 24.90 861.70 22.20 864.50 22.90 C867.50 23.70 867.90 27.90 865.20 28.60 C863.70 28.90 862.70 27.40 863.50 26.40"/><path d="M881.70 50.00 C886.70 50.30 889.70 48.50 892.70 47.00 C895.70 45.70 901.20 46.00 903.20 50.50 C904.70 54.50 901.70 57.20 898.90 56.50 C895.90 55.70 895.50 51.50 898.20 50.80 C899.70 50.50 900.70 52.00 899.90 53.00"/>
</g>
<text class="serif" x="911" y="42" font-size="31" fill="#6a6a6a" stroke="#6a6a6a" stroke-width="0.9" textLength="66" lengthAdjust="spacingAndGlyphs">SMN</text>
<text x="912" y="55.5" font-size="5.2" fill="#8f8f8f" textLength="31" lengthAdjust="spacing">SERVICIO</text>
<text x="912" y="62.5" font-size="5.2" fill="#8f8f8f" textLength="54" lengthAdjust="spacing">METEOROLÓGICO</text>
<text x="912" y="69" font-size="5.2" fill="#8f8f8f" textLength="33" lengthAdjust="spacing">NACIONAL</text>
</g>
</svg></body></html>
